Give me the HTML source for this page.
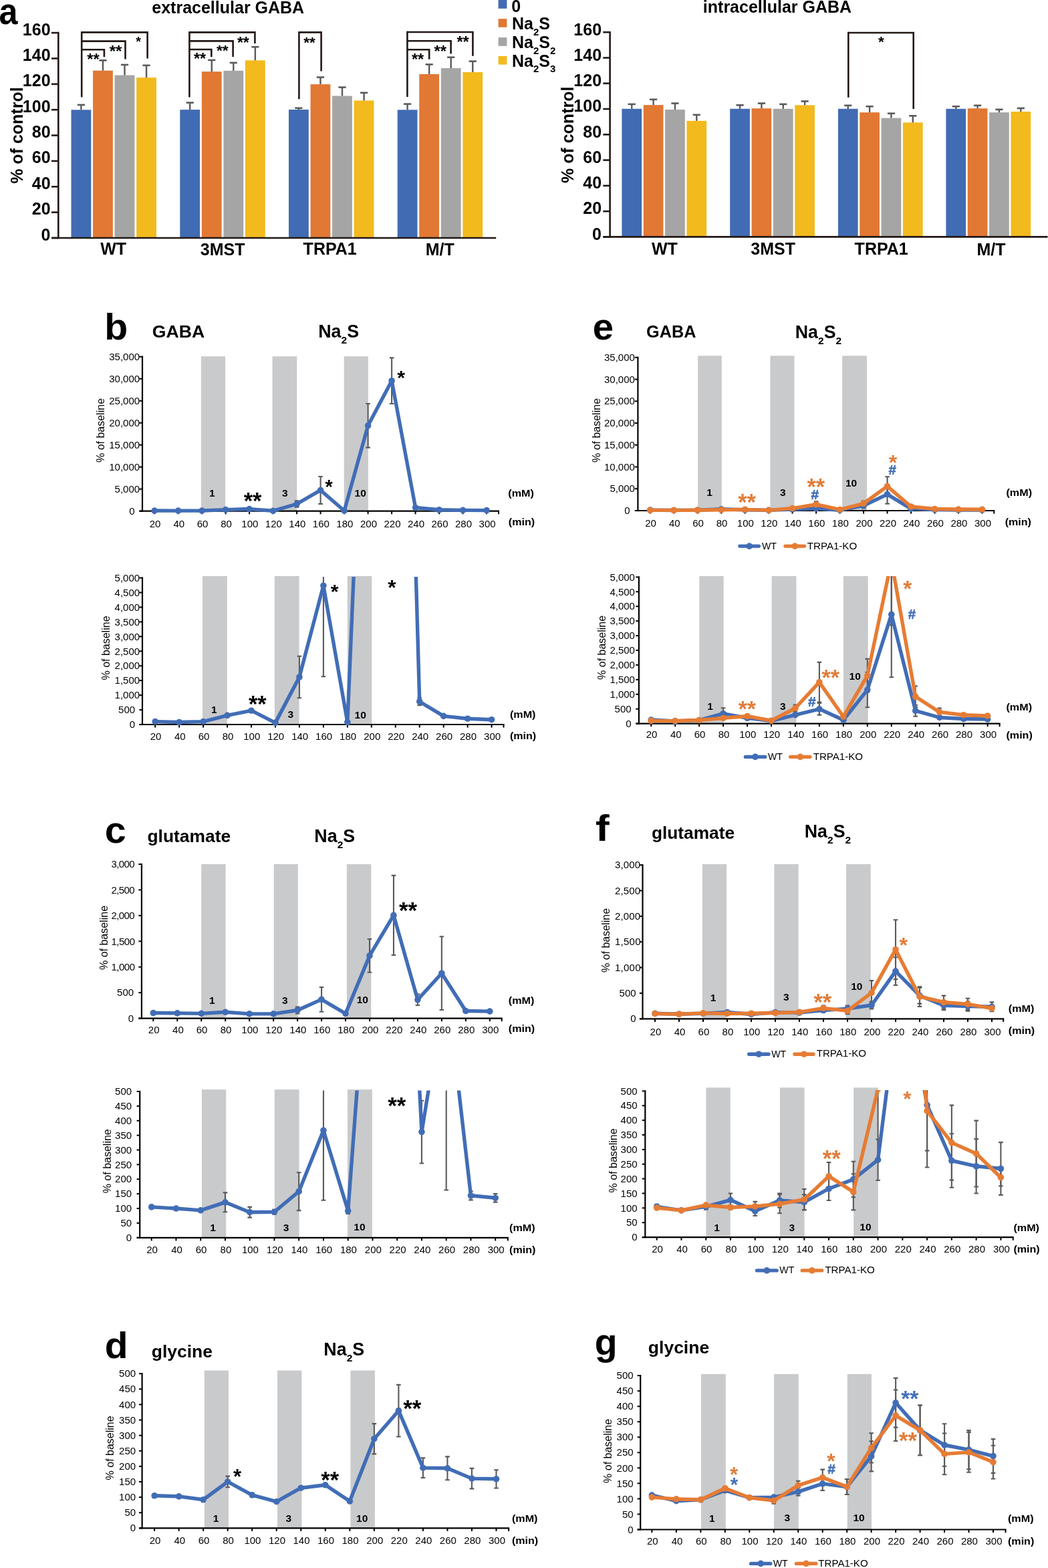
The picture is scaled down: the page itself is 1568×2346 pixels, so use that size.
<!DOCTYPE html>
<html><head><meta charset="utf-8"><title>Figure</title>
<style>html,body{margin:0;padding:0;background:#fff;}svg{display:block;}</style></head>
<body><svg width="1568" height="2346" viewBox="0 0 1568 2346" font-family='Liberation Sans, Arial, sans-serif'>
<rect width="1568" height="2346" fill="#fff"/>
<rect x="106.5" y="164.3" width="29.8" height="191.7" fill="#416BB3"/><line x1="121.4" y1="164.3" x2="121.4" y2="156.9" stroke="#5A5A5A" stroke-width="2.4"/><line x1="115.8" y1="156.9" x2="127" y2="156.9" stroke="#5A5A5A" stroke-width="2.6"/><rect x="139.05" y="105.6" width="29.8" height="250.4" fill="#E17834"/><line x1="153.95" y1="105.6" x2="153.95" y2="90.3" stroke="#5A5A5A" stroke-width="2.4"/><line x1="148.35" y1="90.3" x2="159.55" y2="90.3" stroke="#5A5A5A" stroke-width="2.6"/><rect x="171.6" y="112.5" width="29.8" height="243.5" fill="#A5A5A5"/><line x1="186.5" y1="112.5" x2="186.5" y2="96.9" stroke="#5A5A5A" stroke-width="2.4"/><line x1="180.9" y1="96.9" x2="192.1" y2="96.9" stroke="#5A5A5A" stroke-width="2.6"/><rect x="204.15" y="116.1" width="29.8" height="239.9" fill="#F2BA1D"/><line x1="219.05" y1="116.1" x2="219.05" y2="97.8" stroke="#5A5A5A" stroke-width="2.4"/><line x1="213.45" y1="97.8" x2="224.65" y2="97.8" stroke="#5A5A5A" stroke-width="2.6"/><rect x="269.3" y="164.1" width="29.8" height="191.9" fill="#416BB3"/><line x1="284.2" y1="164.1" x2="284.2" y2="153.6" stroke="#5A5A5A" stroke-width="2.4"/><line x1="278.6" y1="153.6" x2="289.8" y2="153.6" stroke="#5A5A5A" stroke-width="2.6"/><rect x="301.85" y="107.1" width="29.8" height="248.9" fill="#E17834"/><line x1="316.75" y1="107.1" x2="316.75" y2="89.9" stroke="#5A5A5A" stroke-width="2.4"/><line x1="311.15" y1="89.9" x2="322.35" y2="89.9" stroke="#5A5A5A" stroke-width="2.6"/><rect x="334.4" y="105.8" width="29.8" height="250.2" fill="#A5A5A5"/><line x1="349.3" y1="105.8" x2="349.3" y2="93.9" stroke="#5A5A5A" stroke-width="2.4"/><line x1="343.7" y1="93.9" x2="354.9" y2="93.9" stroke="#5A5A5A" stroke-width="2.6"/><rect x="366.95" y="90.3" width="29.8" height="265.7" fill="#F2BA1D"/><line x1="381.85" y1="90.3" x2="381.85" y2="70.2" stroke="#5A5A5A" stroke-width="2.4"/><line x1="376.25" y1="70.2" x2="387.45" y2="70.2" stroke="#5A5A5A" stroke-width="2.6"/><rect x="432" y="164" width="29.8" height="192" fill="#416BB3"/><line x1="446.9" y1="164" x2="446.9" y2="161.7" stroke="#5A5A5A" stroke-width="2.4"/><line x1="441.3" y1="161.7" x2="452.5" y2="161.7" stroke="#5A5A5A" stroke-width="2.6"/><rect x="464.55" y="126.1" width="29.8" height="229.9" fill="#E17834"/><line x1="479.45" y1="126.1" x2="479.45" y2="115.6" stroke="#5A5A5A" stroke-width="2.4"/><line x1="473.85" y1="115.6" x2="485.05" y2="115.6" stroke="#5A5A5A" stroke-width="2.6"/><rect x="497.1" y="143.5" width="29.8" height="212.5" fill="#A5A5A5"/><line x1="512" y1="143.5" x2="512" y2="130.6" stroke="#5A5A5A" stroke-width="2.4"/><line x1="506.4" y1="130.6" x2="517.6" y2="130.6" stroke="#5A5A5A" stroke-width="2.6"/><rect x="529.65" y="150.4" width="29.8" height="205.6" fill="#F2BA1D"/><line x1="544.55" y1="150.4" x2="544.55" y2="138.8" stroke="#5A5A5A" stroke-width="2.4"/><line x1="538.95" y1="138.8" x2="550.15" y2="138.8" stroke="#5A5A5A" stroke-width="2.6"/><rect x="594.7" y="164.3" width="29.8" height="191.7" fill="#416BB3"/><line x1="609.6" y1="164.3" x2="609.6" y2="155.6" stroke="#5A5A5A" stroke-width="2.4"/><line x1="604" y1="155.6" x2="615.2" y2="155.6" stroke="#5A5A5A" stroke-width="2.6"/><rect x="627.25" y="110.9" width="29.8" height="245.1" fill="#E17834"/><line x1="642.15" y1="110.9" x2="642.15" y2="96.4" stroke="#5A5A5A" stroke-width="2.4"/><line x1="636.55" y1="96.4" x2="647.75" y2="96.4" stroke="#5A5A5A" stroke-width="2.6"/><rect x="659.8" y="102" width="29.8" height="254" fill="#A5A5A5"/><line x1="674.7" y1="102" x2="674.7" y2="85.7" stroke="#5A5A5A" stroke-width="2.4"/><line x1="669.1" y1="85.7" x2="680.3" y2="85.7" stroke="#5A5A5A" stroke-width="2.6"/><rect x="692.35" y="108" width="29.8" height="248" fill="#F2BA1D"/><line x1="707.25" y1="108" x2="707.25" y2="91.7" stroke="#5A5A5A" stroke-width="2.4"/><line x1="701.65" y1="91.7" x2="712.85" y2="91.7" stroke="#5A5A5A" stroke-width="2.6"/><line x1="87.3" y1="357.3" x2="87.3" y2="47.8" stroke="#231815" stroke-width="2.6"/><line x1="77" y1="356" x2="87.3" y2="356" stroke="#231815" stroke-width="2.6"/><line x1="77" y1="317.64" x2="87.3" y2="317.64" stroke="#231815" stroke-width="2.6"/><line x1="77" y1="279.27" x2="87.3" y2="279.27" stroke="#231815" stroke-width="2.6"/><line x1="77" y1="240.91" x2="87.3" y2="240.91" stroke="#231815" stroke-width="2.6"/><line x1="77" y1="202.55" x2="87.3" y2="202.55" stroke="#231815" stroke-width="2.6"/><line x1="77" y1="164.19" x2="87.3" y2="164.19" stroke="#231815" stroke-width="2.6"/><line x1="77" y1="125.83" x2="87.3" y2="125.83" stroke="#231815" stroke-width="2.6"/><line x1="77" y1="87.46" x2="87.3" y2="87.46" stroke="#231815" stroke-width="2.6"/><line x1="77" y1="49.1" x2="87.3" y2="49.1" stroke="#231815" stroke-width="2.6"/><line x1="77" y1="356" x2="742.2" y2="356" stroke="#231815" stroke-width="2.6"/><text x="75.53" y="359.52" font-size="25" font-weight="bold" text-anchor="end">0</text><text x="75.56" y="321.16" font-size="25" font-weight="bold" text-anchor="end">20</text><text x="75.56" y="282.8" font-size="25" font-weight="bold" text-anchor="end">40</text><text x="75.56" y="244.44" font-size="25" font-weight="bold" text-anchor="end">60</text><text x="75.56" y="206.08" font-size="25" font-weight="bold" text-anchor="end">80</text><text x="75.59" y="167.71" font-size="25" font-weight="bold" text-anchor="end">100</text><text x="75.59" y="129.35" font-size="25" font-weight="bold" text-anchor="end">120</text><text x="75.59" y="90.99" font-size="25" font-weight="bold" text-anchor="end">140</text><text x="75.59" y="52.63" font-size="25" font-weight="bold" text-anchor="end">160</text><text x="150.19" y="381.25" font-size="25" font-weight="bold" fill="#000">WT</text><text x="299.8" y="381.5" font-size="25" font-weight="bold" fill="#000">3MST</text><text x="453.62" y="381.25" font-size="25" font-weight="bold" fill="#000">TRPA1</text><text x="636.71" y="382.12" font-size="25" font-weight="bold" fill="#000">M/T</text><rect x="930.4" y="162.8" width="29.7" height="191.6" fill="#416BB3"/><line x1="945.25" y1="162.8" x2="945.25" y2="155.9" stroke="#5A5A5A" stroke-width="2.4"/><line x1="939.65" y1="155.9" x2="950.85" y2="155.9" stroke="#5A5A5A" stroke-width="2.6"/><rect x="962.75" y="157.1" width="29.7" height="197.3" fill="#E17834"/><line x1="977.6" y1="157.1" x2="977.6" y2="148.8" stroke="#5A5A5A" stroke-width="2.4"/><line x1="972" y1="148.8" x2="983.2" y2="148.8" stroke="#5A5A5A" stroke-width="2.6"/><rect x="995.1" y="164" width="29.7" height="190.4" fill="#A5A5A5"/><line x1="1009.95" y1="164" x2="1009.95" y2="154.6" stroke="#5A5A5A" stroke-width="2.4"/><line x1="1004.35" y1="154.6" x2="1015.55" y2="154.6" stroke="#5A5A5A" stroke-width="2.6"/><rect x="1027.45" y="180.8" width="29.7" height="173.6" fill="#F2BA1D"/><line x1="1042.3" y1="180.8" x2="1042.3" y2="171.8" stroke="#5A5A5A" stroke-width="2.4"/><line x1="1036.7" y1="171.8" x2="1047.9" y2="171.8" stroke="#5A5A5A" stroke-width="2.6"/><rect x="1092.2" y="162.8" width="29.7" height="191.6" fill="#416BB3"/><line x1="1107.05" y1="162.8" x2="1107.05" y2="157.3" stroke="#5A5A5A" stroke-width="2.4"/><line x1="1101.45" y1="157.3" x2="1112.65" y2="157.3" stroke="#5A5A5A" stroke-width="2.6"/><rect x="1124.55" y="162.2" width="29.7" height="192.2" fill="#E17834"/><line x1="1139.4" y1="162.2" x2="1139.4" y2="154.6" stroke="#5A5A5A" stroke-width="2.4"/><line x1="1133.8" y1="154.6" x2="1145" y2="154.6" stroke="#5A5A5A" stroke-width="2.6"/><rect x="1156.9" y="162.8" width="29.7" height="191.6" fill="#A5A5A5"/><line x1="1171.75" y1="162.8" x2="1171.75" y2="155.9" stroke="#5A5A5A" stroke-width="2.4"/><line x1="1166.15" y1="155.9" x2="1177.35" y2="155.9" stroke="#5A5A5A" stroke-width="2.6"/><rect x="1189.25" y="157.3" width="29.7" height="197.1" fill="#F2BA1D"/><line x1="1204.1" y1="157.3" x2="1204.1" y2="151.5" stroke="#5A5A5A" stroke-width="2.4"/><line x1="1198.5" y1="151.5" x2="1209.7" y2="151.5" stroke="#5A5A5A" stroke-width="2.6"/><rect x="1253.9" y="162.8" width="29.7" height="191.6" fill="#416BB3"/><line x1="1268.75" y1="162.8" x2="1268.75" y2="157.8" stroke="#5A5A5A" stroke-width="2.4"/><line x1="1263.15" y1="157.8" x2="1274.35" y2="157.8" stroke="#5A5A5A" stroke-width="2.6"/><rect x="1286.25" y="168.2" width="29.7" height="186.2" fill="#E17834"/><line x1="1301.1" y1="168.2" x2="1301.1" y2="159.2" stroke="#5A5A5A" stroke-width="2.4"/><line x1="1295.5" y1="159.2" x2="1306.7" y2="159.2" stroke="#5A5A5A" stroke-width="2.6"/><rect x="1318.6" y="176.6" width="29.7" height="177.8" fill="#A5A5A5"/><line x1="1333.45" y1="176.6" x2="1333.45" y2="169.7" stroke="#5A5A5A" stroke-width="2.4"/><line x1="1327.85" y1="169.7" x2="1339.05" y2="169.7" stroke="#5A5A5A" stroke-width="2.6"/><rect x="1350.95" y="183.3" width="29.7" height="171.1" fill="#F2BA1D"/><line x1="1365.8" y1="183.3" x2="1365.8" y2="173.3" stroke="#5A5A5A" stroke-width="2.4"/><line x1="1360.2" y1="173.3" x2="1371.4" y2="173.3" stroke="#5A5A5A" stroke-width="2.6"/><rect x="1415.4" y="162.8" width="29.7" height="191.6" fill="#416BB3"/><line x1="1430.25" y1="162.8" x2="1430.25" y2="159.2" stroke="#5A5A5A" stroke-width="2.4"/><line x1="1424.65" y1="159.2" x2="1435.85" y2="159.2" stroke="#5A5A5A" stroke-width="2.6"/><rect x="1447.75" y="162.2" width="29.7" height="192.2" fill="#E17834"/><line x1="1462.6" y1="162.2" x2="1462.6" y2="157.8" stroke="#5A5A5A" stroke-width="2.4"/><line x1="1457" y1="157.8" x2="1468.2" y2="157.8" stroke="#5A5A5A" stroke-width="2.6"/><rect x="1480.1" y="168.2" width="29.7" height="186.2" fill="#A5A5A5"/><line x1="1494.95" y1="168.2" x2="1494.95" y2="163.8" stroke="#5A5A5A" stroke-width="2.4"/><line x1="1489.35" y1="163.8" x2="1500.55" y2="163.8" stroke="#5A5A5A" stroke-width="2.6"/><rect x="1512.45" y="167" width="29.7" height="187.4" fill="#F2BA1D"/><line x1="1527.3" y1="167" x2="1527.3" y2="161.9" stroke="#5A5A5A" stroke-width="2.4"/><line x1="1521.7" y1="161.9" x2="1532.9" y2="161.9" stroke="#5A5A5A" stroke-width="2.6"/><line x1="912.6" y1="355.7" x2="912.6" y2="46.9" stroke="#231815" stroke-width="2.6"/><line x1="902.3" y1="354.4" x2="912.6" y2="354.4" stroke="#231815" stroke-width="2.6"/><line x1="902.3" y1="316.12" x2="912.6" y2="316.12" stroke="#231815" stroke-width="2.6"/><line x1="902.3" y1="277.85" x2="912.6" y2="277.85" stroke="#231815" stroke-width="2.6"/><line x1="902.3" y1="239.57" x2="912.6" y2="239.57" stroke="#231815" stroke-width="2.6"/><line x1="902.3" y1="201.3" x2="912.6" y2="201.3" stroke="#231815" stroke-width="2.6"/><line x1="902.3" y1="163.02" x2="912.6" y2="163.02" stroke="#231815" stroke-width="2.6"/><line x1="902.3" y1="124.75" x2="912.6" y2="124.75" stroke="#231815" stroke-width="2.6"/><line x1="902.3" y1="86.47" x2="912.6" y2="86.47" stroke="#231815" stroke-width="2.6"/><line x1="902.3" y1="48.2" x2="912.6" y2="48.2" stroke="#231815" stroke-width="2.6"/><line x1="902.3" y1="354.4" x2="1567.5" y2="354.4" stroke="#231815" stroke-width="2.6"/><text x="900.03" y="358.72" font-size="25" font-weight="bold" text-anchor="end">0</text><text x="900.06" y="320.45" font-size="25" font-weight="bold" text-anchor="end">20</text><text x="900.06" y="282.17" font-size="25" font-weight="bold" text-anchor="end">40</text><text x="900.06" y="243.9" font-size="25" font-weight="bold" text-anchor="end">60</text><text x="900.06" y="205.62" font-size="25" font-weight="bold" text-anchor="end">80</text><text x="900.09" y="167.35" font-size="25" font-weight="bold" text-anchor="end">100</text><text x="900.09" y="129.07" font-size="25" font-weight="bold" text-anchor="end">120</text><text x="900.09" y="90.8" font-size="25" font-weight="bold" text-anchor="end">140</text><text x="900.09" y="52.52" font-size="25" font-weight="bold" text-anchor="end">160</text><text x="974.99" y="380.75" font-size="25" font-weight="bold" fill="#000">WT</text><text x="1123.3" y="381" font-size="25" font-weight="bold" fill="#000">3MST</text><text x="1278.62" y="380.75" font-size="25" font-weight="bold" fill="#000">TRPA1</text><text x="1461.51" y="381.62" font-size="25" font-weight="bold" fill="#000">M/T</text><path d="M122.2 145.4 V47.1" stroke="#231815" stroke-width="2.6" fill="none"/><path d="M122.2 48.4 H220.6 V87.4" stroke="#231815" stroke-width="2.6" fill="none" stroke-linejoin="miter"/><path d="M122.2 61.6 H187.5 V88.6" stroke="#231815" stroke-width="2.6" fill="none" stroke-linejoin="miter"/><path d="M122.2 74.3 H155.9 V85.2" stroke="#231815" stroke-width="2.6" fill="none" stroke-linejoin="miter"/><path d="M283.4 145.4 V47.1" stroke="#231815" stroke-width="2.6" fill="none"/><path d="M283.4 48.4 H381.4 V65" stroke="#231815" stroke-width="2.6" fill="none" stroke-linejoin="miter"/><path d="M283.4 61.4 H348.6 V85.1" stroke="#231815" stroke-width="2.6" fill="none" stroke-linejoin="miter"/><path d="M283.4 74 H316.3 V85.3" stroke="#231815" stroke-width="2.6" fill="none" stroke-linejoin="miter"/><path d="M447.4 148.3 V47.1" stroke="#231815" stroke-width="2.6" fill="none"/><path d="M447.4 48.4 H480.6 V106.4" stroke="#231815" stroke-width="2.6" fill="none" stroke-linejoin="miter"/><path d="M609.4 145 V46.7" stroke="#231815" stroke-width="2.6" fill="none"/><path d="M609.4 48 H707.4 V83.7" stroke="#231815" stroke-width="2.6" fill="none" stroke-linejoin="miter"/><path d="M609.4 61.2 H674.6 V80.4" stroke="#231815" stroke-width="2.6" fill="none" stroke-linejoin="miter"/><path d="M609.4 74.3 H642.2 V88.8" stroke="#231815" stroke-width="2.6" fill="none" stroke-linejoin="miter"/><path d="M1269.3 145.8 V47.7" stroke="#231815" stroke-width="2.6" fill="none"/><path d="M1269.3 49 H1366.7 V163" stroke="#231815" stroke-width="2.6" fill="none" stroke-linejoin="miter"/><text x="130.28" y="97.39" font-size="23.64" font-weight="bold" fill="#000">**</text><text x="163.78" y="85.48" font-size="24.03" font-weight="bold" fill="#000">**</text><text x="203.2" y="69.22" font-size="19.74" font-weight="bold" fill="#000">*</text><text x="289.88" y="96.01" font-size="23.38" font-weight="bold" fill="#000">**</text><text x="323.89" y="83.34" font-size="22.86" font-weight="bold" fill="#000">**</text><text x="354.88" y="71.87" font-size="23.12" font-weight="bold" fill="#000">**</text><text x="454.29" y="70.6" font-size="22.47" font-weight="bold" fill="#000">**</text><text x="615.88" y="97.21" font-size="23.38" font-weight="bold" fill="#000">**</text><text x="649.48" y="84.9" font-size="23.77" font-weight="bold" fill="#000">**</text><text x="683.38" y="71.07" font-size="23.51" font-weight="bold" fill="#000">**</text><text x="1313.89" y="70.23" font-size="22.63" font-weight="bold" fill="#000">*</text><text x="227.3" y="19.95" font-size="25" font-weight="bold" fill="#000">extracellular GABA</text><text x="1051.85" y="19.35" font-size="25" font-weight="bold" fill="#000">intracellular GABA</text><text transform="translate(34 202.6) rotate(-90)" font-size="25" font-weight="bold" text-anchor="middle">% of control</text><text transform="translate(857.9 201.8) rotate(-90)" font-size="25" font-weight="bold" text-anchor="middle">% of control</text><text transform="translate(-1.51 36.24) scale(0.8979 1)" font-size="56" font-weight="bold" fill="#000">a</text><rect x="745.6" y="-0.5" width="12.8" height="13.3" fill="#416BB3"/><rect x="745.6" y="28.1" width="12.8" height="12.7" fill="#E17834"/><rect x="745.6" y="56.1" width="12.8" height="12.7" fill="#A5A5A5"/><rect x="745.6" y="83.9" width="12.8" height="12.7" fill="#F2BA1D"/><text x="765.2" y="17.95" font-size="25" font-weight="bold" fill="#000">0</text><text x="766" y="44" font-size="25" font-weight="bold">Na<tspan font-size="15" dy="8.8">2</tspan><tspan dy="-8.8">S</tspan></text><text x="766" y="71.7" font-size="25" font-weight="bold">Na<tspan font-size="15" dy="8.8">2</tspan><tspan dy="-8.8">S</tspan><tspan font-size="15" dy="8.8">2</tspan></text><text x="766" y="99.6" font-size="25" font-weight="bold">Na<tspan font-size="15" dy="8.8">2</tspan><tspan dy="-8.8">S</tspan><tspan font-size="15" dy="8.8">3</tspan></text>
<rect x="300.8" y="533.2" width="36.3" height="231.5" fill="#C9CACC"/><rect x="407.5" y="533.2" width="36.8" height="231.5" fill="#C9CACC"/><rect x="514.7" y="533.2" width="36.2" height="231.5" fill="#C9CACC"/><text x="313.07" y="742.8" font-size="15.5" font-weight="bold" fill="#000">1</text><text x="422.01" y="742.64" font-size="15.5" font-weight="bold" fill="#000">3</text><text x="530.57" y="743.05" font-size="15.5" font-weight="bold" fill="#000">10</text><line x1="213" y1="765.8" x2="213" y2="532.6" stroke="#000" stroke-width="2.2"/><line x1="208.4" y1="764.7" x2="747" y2="764.7" stroke="#000" stroke-width="2.2"/><line x1="231.1" y1="764.7" x2="231.1" y2="769.3" stroke="#000" stroke-width="2"/><line x1="266.6" y1="764.7" x2="266.6" y2="769.3" stroke="#000" stroke-width="2"/><line x1="302.1" y1="764.7" x2="302.1" y2="769.3" stroke="#000" stroke-width="2"/><line x1="337.6" y1="764.7" x2="337.6" y2="769.3" stroke="#000" stroke-width="2"/><line x1="373.1" y1="764.7" x2="373.1" y2="769.3" stroke="#000" stroke-width="2"/><line x1="408.6" y1="764.7" x2="408.6" y2="769.3" stroke="#000" stroke-width="2"/><line x1="444.1" y1="764.7" x2="444.1" y2="769.3" stroke="#000" stroke-width="2"/><line x1="479.6" y1="764.7" x2="479.6" y2="769.3" stroke="#000" stroke-width="2"/><line x1="515.1" y1="764.7" x2="515.1" y2="769.3" stroke="#000" stroke-width="2"/><line x1="550.6" y1="764.7" x2="550.6" y2="769.3" stroke="#000" stroke-width="2"/><line x1="586.1" y1="764.7" x2="586.1" y2="769.3" stroke="#000" stroke-width="2"/><line x1="621.6" y1="764.7" x2="621.6" y2="769.3" stroke="#000" stroke-width="2"/><line x1="657.1" y1="764.7" x2="657.1" y2="769.3" stroke="#000" stroke-width="2"/><line x1="692.6" y1="764.7" x2="692.6" y2="769.3" stroke="#000" stroke-width="2"/><line x1="728.1" y1="764.7" x2="728.1" y2="769.3" stroke="#000" stroke-width="2"/><line x1="746" y1="764.7" x2="746" y2="769.3" stroke="#000" stroke-width="2"/><clipPath id="c1"><rect x="213" y="532.2" width="543" height="251"/></clipPath><g clip-path="url(#c1)"><path d="M444.1 749.32 V758.73 M440.8 749.32 H447.4 M440.8 758.73 H447.4" stroke="#5A5A5A" stroke-width="2.1" fill="none"/><path d="M479.6 712.98 V753.9 M476.3 712.98 H482.9 M476.3 753.9 H482.9" stroke="#5A5A5A" stroke-width="2.1" fill="none"/><path d="M550.6 604 V669.6 M547.3 604 H553.9 M547.3 669.6 H553.9" stroke="#5A5A5A" stroke-width="2.1" fill="none"/><path d="M586.1 535.38 V604.02 M582.8 535.38 H589.4 M582.8 604.02 H589.4" stroke="#5A5A5A" stroke-width="2.1" fill="none"/><path d="M621.6 758.73 V760.35 M618.3 758.73 H624.9 M618.3 760.35 H624.9" stroke="#5A5A5A" stroke-width="2.1" fill="none"/><polyline points="231.1,764.04 266.6,764.17 302.1,764.04 337.6,762.65 373.1,761.57 408.6,764.3 444.1,754.02 479.6,733.44 515.1,764.17 550.6,636.8 586.1,569.7 621.6,759.54 657.1,762.81 692.6,763.38 728.1,763.6" fill="none" stroke="#416DB6" stroke-width="5.4" stroke-linejoin="round"/><circle cx="231.1" cy="764.04" r="4.8" fill="#416DB6"/><circle cx="266.6" cy="764.17" r="4.8" fill="#416DB6"/><circle cx="302.1" cy="764.04" r="4.8" fill="#416DB6"/><circle cx="337.6" cy="762.65" r="4.8" fill="#416DB6"/><circle cx="373.1" cy="761.57" r="4.8" fill="#416DB6"/><circle cx="408.6" cy="764.3" r="4.8" fill="#416DB6"/><circle cx="444.1" cy="754.02" r="4.8" fill="#416DB6"/><circle cx="479.6" cy="733.44" r="4.8" fill="#416DB6"/><circle cx="515.1" cy="764.17" r="4.8" fill="#416DB6"/><circle cx="550.6" cy="636.8" r="4.8" fill="#416DB6"/><circle cx="586.1" cy="569.7" r="4.8" fill="#416DB6"/><circle cx="621.6" cy="759.54" r="4.8" fill="#416DB6"/><circle cx="657.1" cy="762.81" r="4.8" fill="#416DB6"/><circle cx="692.6" cy="763.38" r="4.8" fill="#416DB6"/><circle cx="728.1" cy="763.6" r="4.8" fill="#416DB6"/></g><line x1="208.4" y1="764.7" x2="213" y2="764.7" stroke="#000" stroke-width="2"/><text x="193.2" y="769.88" font-size="15" fill="#000">0</text><line x1="208.4" y1="731.7" x2="213" y2="731.7" stroke="#000" stroke-width="2"/><text x="171.62" y="736.9" font-size="15" fill="#000">5,000</text><line x1="208.4" y1="698.7" x2="213" y2="698.7" stroke="#000" stroke-width="2"/><text x="163.22" y="703.9" font-size="15" fill="#000">10,000</text><line x1="208.4" y1="665.7" x2="213" y2="665.7" stroke="#000" stroke-width="2"/><text x="163.22" y="670.9" font-size="15" fill="#000">15,000</text><line x1="208.4" y1="632.7" x2="213" y2="632.7" stroke="#000" stroke-width="2"/><text x="163.22" y="637.9" font-size="15" fill="#000">20,000</text><line x1="208.4" y1="599.7" x2="213" y2="599.7" stroke="#000" stroke-width="2"/><text x="163.22" y="604.9" font-size="15" fill="#000">25,000</text><line x1="208.4" y1="566.7" x2="213" y2="566.7" stroke="#000" stroke-width="2"/><text x="163.22" y="571.9" font-size="15" fill="#000">30,000</text><line x1="208.4" y1="533.7" x2="213" y2="533.7" stroke="#000" stroke-width="2"/><text x="163.22" y="538.9" font-size="15" fill="#000">35,000</text><text x="223.66" y="789.05" font-size="15" fill="#000">20</text><text x="259.39" y="789.05" font-size="15" fill="#000">40</text><text x="294.66" y="789.05" font-size="15" fill="#000">60</text><text x="330.2" y="789.05" font-size="15" fill="#000">80</text><text x="361.31" y="789.05" font-size="15" fill="#000">100</text><text x="396.81" y="789.05" font-size="15" fill="#000">120</text><text x="432.31" y="789.05" font-size="15" fill="#000">140</text><text x="467.81" y="789.05" font-size="15" fill="#000">160</text><text x="503.31" y="789.05" font-size="15" fill="#000">180</text><text x="539" y="789.05" font-size="15" fill="#000">200</text><text x="574.5" y="789.05" font-size="15" fill="#000">220</text><text x="610" y="789.05" font-size="15" fill="#000">240</text><text x="645.5" y="789.05" font-size="15" fill="#000">260</text><text x="681" y="789.05" font-size="15" fill="#000">280</text><text x="716.58" y="789.05" font-size="15" fill="#000">300</text><text transform="translate(760.29 742.94) scale(1.0424 1)" font-size="15.5" font-weight="bold" fill="#000">(mM)</text><text transform="translate(760.8 786.24) scale(1.0372 1)" font-size="15.5" font-weight="bold" fill="#000">(min)</text><text transform="translate(156.3 644) rotate(-90)" font-size="16" text-anchor="middle">% of baseline</text><text x="364.63" y="761.36" font-size="34.29" font-weight="bold" fill="#000">**</text><text x="486.46" y="738.37" font-size="28.95" font-weight="bold" fill="#000">*</text><text x="594.35" y="575.18" font-size="30.26" font-weight="bold" fill="#000">*</text><rect x="303" y="861.9" width="36.8" height="222.1" fill="#C9CACC"/><rect x="410.8" y="861.9" width="36.8" height="222.1" fill="#C9CACC"/><rect x="519.8" y="861.9" width="36.5" height="222.1" fill="#C9CACC"/><text x="316.07" y="1066.6" font-size="15.5" font-weight="bold" fill="#000">1</text><text x="430.51" y="1074.25" font-size="15.5" font-weight="bold" fill="#000">3</text><text x="530.57" y="1074.55" font-size="15.5" font-weight="bold" fill="#000">10</text><line x1="213" y1="1085.1" x2="213" y2="863.5" stroke="#000" stroke-width="2.2"/><line x1="208.4" y1="1084" x2="754.5" y2="1084" stroke="#000" stroke-width="2.2"/><line x1="232.2" y1="1084" x2="232.2" y2="1088.6" stroke="#000" stroke-width="2"/><line x1="268.16" y1="1084" x2="268.16" y2="1088.6" stroke="#000" stroke-width="2"/><line x1="304.11" y1="1084" x2="304.11" y2="1088.6" stroke="#000" stroke-width="2"/><line x1="340.07" y1="1084" x2="340.07" y2="1088.6" stroke="#000" stroke-width="2"/><line x1="376.03" y1="1084" x2="376.03" y2="1088.6" stroke="#000" stroke-width="2"/><line x1="411.99" y1="1084" x2="411.99" y2="1088.6" stroke="#000" stroke-width="2"/><line x1="447.94" y1="1084" x2="447.94" y2="1088.6" stroke="#000" stroke-width="2"/><line x1="483.9" y1="1084" x2="483.9" y2="1088.6" stroke="#000" stroke-width="2"/><line x1="519.86" y1="1084" x2="519.86" y2="1088.6" stroke="#000" stroke-width="2"/><line x1="555.81" y1="1084" x2="555.81" y2="1088.6" stroke="#000" stroke-width="2"/><line x1="591.77" y1="1084" x2="591.77" y2="1088.6" stroke="#000" stroke-width="2"/><line x1="627.73" y1="1084" x2="627.73" y2="1088.6" stroke="#000" stroke-width="2"/><line x1="663.69" y1="1084" x2="663.69" y2="1088.6" stroke="#000" stroke-width="2"/><line x1="699.64" y1="1084" x2="699.64" y2="1088.6" stroke="#000" stroke-width="2"/><line x1="735.6" y1="1084" x2="735.6" y2="1088.6" stroke="#000" stroke-width="2"/><line x1="753.5" y1="1084" x2="753.5" y2="1088.6" stroke="#000" stroke-width="2"/><clipPath id="c2"><rect x="213" y="863.1" width="550.5" height="239.4"/></clipPath><g clip-path="url(#c2)"><path d="M447.94 981.72 V1044.29 M444.64 981.72 H451.24 M444.64 1044.29 H451.24" stroke="#5A5A5A" stroke-width="2.1" fill="none"/><path d="M483.9 740.16 V1012.21 M480.6 740.16 H487.2 M480.6 1012.21 H487.2" stroke="#5A5A5A" stroke-width="2.1" fill="none"/><path d="M555.81 15.57 V451.73 M552.51 15.57 H559.11 M552.51 451.73 H559.11" stroke="#5A5A5A" stroke-width="2.1" fill="none"/><path d="M591.77 -440.61 V15.74 M588.47 -440.61 H595.07 M588.47 15.74 H595.07" stroke="#5A5A5A" stroke-width="2.1" fill="none"/><path d="M627.73 1044.29 V1055.08 M624.43 1044.29 H631.03 M624.43 1055.08 H631.03" stroke="#5A5A5A" stroke-width="2.1" fill="none"/><polyline points="232.2,1079.61 268.16,1080.49 304.11,1079.61 340.07,1070.4 376.03,1063.2 411.99,1081.37 447.94,1013 483.9,876.18 519.86,1080.49 555.81,233.65 591.77,-212.43 627.73,1049.69 663.69,1071.41 699.64,1075.22 735.6,1076.72" fill="none" stroke="#416DB6" stroke-width="5.4" stroke-linejoin="round"/><circle cx="232.2" cy="1079.61" r="4.8" fill="#416DB6"/><circle cx="268.16" cy="1080.49" r="4.8" fill="#416DB6"/><circle cx="304.11" cy="1079.61" r="4.8" fill="#416DB6"/><circle cx="340.07" cy="1070.4" r="4.8" fill="#416DB6"/><circle cx="376.03" cy="1063.2" r="4.8" fill="#416DB6"/><circle cx="411.99" cy="1081.37" r="4.8" fill="#416DB6"/><circle cx="447.94" cy="1013" r="4.8" fill="#416DB6"/><circle cx="483.9" cy="876.18" r="4.8" fill="#416DB6"/><circle cx="519.86" cy="1080.49" r="4.8" fill="#416DB6"/><circle cx="555.81" cy="233.65" r="4.8" fill="#416DB6"/><circle cx="591.77" cy="-212.43" r="4.8" fill="#416DB6"/><circle cx="627.73" cy="1049.69" r="4.8" fill="#416DB6"/><circle cx="663.69" cy="1071.41" r="4.8" fill="#416DB6"/><circle cx="699.64" cy="1075.22" r="4.8" fill="#416DB6"/><circle cx="735.6" cy="1076.72" r="4.8" fill="#416DB6"/></g><line x1="208.4" y1="1084" x2="213" y2="1084" stroke="#000" stroke-width="2"/><text x="193.7" y="1089.17" font-size="15" fill="#000">0</text><line x1="208.4" y1="1062.06" x2="213" y2="1062.06" stroke="#000" stroke-width="2"/><text x="177.05" y="1067.23" font-size="15" fill="#000">500</text><line x1="208.4" y1="1040.12" x2="213" y2="1040.12" stroke="#000" stroke-width="2"/><text x="171.62" y="1045.32" font-size="15" fill="#000">1,000</text><line x1="208.4" y1="1018.18" x2="213" y2="1018.18" stroke="#000" stroke-width="2"/><text x="171.62" y="1023.38" font-size="15" fill="#000">1,500</text><line x1="208.4" y1="996.24" x2="213" y2="996.24" stroke="#000" stroke-width="2"/><text x="171.62" y="1001.44" font-size="15" fill="#000">2,000</text><line x1="208.4" y1="974.3" x2="213" y2="974.3" stroke="#000" stroke-width="2"/><text x="171.62" y="979.5" font-size="15" fill="#000">2,500</text><line x1="208.4" y1="952.36" x2="213" y2="952.36" stroke="#000" stroke-width="2"/><text x="171.62" y="957.56" font-size="15" fill="#000">3,000</text><line x1="208.4" y1="930.42" x2="213" y2="930.42" stroke="#000" stroke-width="2"/><text x="171.62" y="935.62" font-size="15" fill="#000">3,500</text><line x1="208.4" y1="908.48" x2="213" y2="908.48" stroke="#000" stroke-width="2"/><text x="171.62" y="913.68" font-size="15" fill="#000">4,000</text><line x1="208.4" y1="886.54" x2="213" y2="886.54" stroke="#000" stroke-width="2"/><text x="171.62" y="891.74" font-size="15" fill="#000">4,500</text><line x1="208.4" y1="864.6" x2="213" y2="864.6" stroke="#000" stroke-width="2"/><text x="171.62" y="869.8" font-size="15" fill="#000">5,000</text><text x="224.76" y="1106.55" font-size="15" fill="#000">20</text><text x="260.94" y="1106.55" font-size="15" fill="#000">40</text><text x="296.68" y="1106.55" font-size="15" fill="#000">60</text><text x="332.67" y="1106.55" font-size="15" fill="#000">80</text><text x="364.24" y="1106.55" font-size="15" fill="#000">100</text><text x="400.2" y="1106.55" font-size="15" fill="#000">120</text><text x="436.16" y="1106.55" font-size="15" fill="#000">140</text><text x="472.11" y="1106.55" font-size="15" fill="#000">160</text><text x="508.07" y="1106.55" font-size="15" fill="#000">180</text><text x="544.21" y="1106.55" font-size="15" fill="#000">200</text><text x="580.17" y="1106.55" font-size="15" fill="#000">220</text><text x="616.13" y="1106.55" font-size="15" fill="#000">240</text><text x="652.09" y="1106.55" font-size="15" fill="#000">260</text><text x="688.04" y="1106.55" font-size="15" fill="#000">280</text><text x="724.08" y="1106.55" font-size="15" fill="#000">300</text><text transform="translate(762.89 1073.64) scale(1.0424 1)" font-size="15.5" font-weight="bold" fill="#000">(mM)</text><text transform="translate(762.9 1106.24) scale(1.0372 1)" font-size="15.5" font-weight="bold" fill="#000">(min)</text><text transform="translate(163.9 969.5) rotate(-90)" font-size="16" text-anchor="middle">% of baseline</text><text x="372.03" y="1064.85" font-size="34.16" font-weight="bold" fill="#000">**</text><text x="494.85" y="895.48" font-size="30.26" font-weight="bold" fill="#000">*</text><text x="580.34" y="890.4" font-size="31.58" font-weight="bold" fill="#000">*</text><rect x="301.2" y="1292.9" width="36.4" height="230.7" fill="#C9CACC"/><rect x="409.7" y="1292.9" width="36.1" height="230.7" fill="#C9CACC"/><rect x="518.8" y="1292.9" width="36.5" height="230.7" fill="#C9CACC"/><text x="313.07" y="1502" font-size="15.5" font-weight="bold" fill="#000">1</text><text x="422.01" y="1501.85" font-size="15.5" font-weight="bold" fill="#000">3</text><text x="533.67" y="1501.44" font-size="15.5" font-weight="bold" fill="#000">10</text><line x1="211.9" y1="1524.7" x2="211.9" y2="1291.9" stroke="#000" stroke-width="2.2"/><line x1="207.3" y1="1523.6" x2="751.7" y2="1523.6" stroke="#000" stroke-width="2.2"/><line x1="229.3" y1="1523.6" x2="229.3" y2="1528.2" stroke="#000" stroke-width="2"/><line x1="265.26" y1="1523.6" x2="265.26" y2="1528.2" stroke="#000" stroke-width="2"/><line x1="301.23" y1="1523.6" x2="301.23" y2="1528.2" stroke="#000" stroke-width="2"/><line x1="337.19" y1="1523.6" x2="337.19" y2="1528.2" stroke="#000" stroke-width="2"/><line x1="373.16" y1="1523.6" x2="373.16" y2="1528.2" stroke="#000" stroke-width="2"/><line x1="409.12" y1="1523.6" x2="409.12" y2="1528.2" stroke="#000" stroke-width="2"/><line x1="445.09" y1="1523.6" x2="445.09" y2="1528.2" stroke="#000" stroke-width="2"/><line x1="481.05" y1="1523.6" x2="481.05" y2="1528.2" stroke="#000" stroke-width="2"/><line x1="517.01" y1="1523.6" x2="517.01" y2="1528.2" stroke="#000" stroke-width="2"/><line x1="552.98" y1="1523.6" x2="552.98" y2="1528.2" stroke="#000" stroke-width="2"/><line x1="588.94" y1="1523.6" x2="588.94" y2="1528.2" stroke="#000" stroke-width="2"/><line x1="624.91" y1="1523.6" x2="624.91" y2="1528.2" stroke="#000" stroke-width="2"/><line x1="660.87" y1="1523.6" x2="660.87" y2="1528.2" stroke="#000" stroke-width="2"/><line x1="696.84" y1="1523.6" x2="696.84" y2="1528.2" stroke="#000" stroke-width="2"/><line x1="732.8" y1="1523.6" x2="732.8" y2="1528.2" stroke="#000" stroke-width="2"/><line x1="750.7" y1="1523.6" x2="750.7" y2="1528.2" stroke="#000" stroke-width="2"/><clipPath id="c3"><rect x="211.9" y="1291.5" width="548.8" height="250.6"/></clipPath><g clip-path="url(#c3)"><path d="M229.3 1515.22 V1515.84 M226 1515.22 H232.6 M226 1515.84 H232.6" stroke="#5A5A5A" stroke-width="2.1" fill="none"/><path d="M265.26 1515.61 V1516.22 M261.96 1515.61 H268.56 M261.96 1516.22 H268.56" stroke="#5A5A5A" stroke-width="2.1" fill="none"/><path d="M301.23 1516.11 V1516.72 M297.93 1516.11 H304.53 M297.93 1516.72 H304.53" stroke="#5A5A5A" stroke-width="2.1" fill="none"/><path d="M337.19 1511.76 V1516.84 M333.89 1511.76 H340.49 M333.89 1516.84 H340.49" stroke="#5A5A5A" stroke-width="2.1" fill="none"/><path d="M373.16 1515.53 V1518.3 M369.86 1515.53 H376.46 M369.86 1518.3 H376.46" stroke="#5A5A5A" stroke-width="2.1" fill="none"/><path d="M409.12 1516.22 V1517.45 M405.82 1516.22 H412.42 M405.82 1517.45 H412.42" stroke="#5A5A5A" stroke-width="2.1" fill="none"/><path d="M445.09 1506.46 V1516.45 M441.79 1506.46 H448.39 M441.79 1516.45 H448.39" stroke="#5A5A5A" stroke-width="2.1" fill="none"/><path d="M481.05 1477.02 V1513.76 M477.75 1477.02 H484.35 M477.75 1513.76 H484.35" stroke="#5A5A5A" stroke-width="2.1" fill="none"/><path d="M517.01 1515.76 V1517.3 M513.71 1515.76 H520.31 M513.71 1517.3 H520.31" stroke="#5A5A5A" stroke-width="2.1" fill="none"/><path d="M552.98 1405.07 V1454.73 M549.68 1405.07 H556.28 M549.68 1454.73 H556.28" stroke="#5A5A5A" stroke-width="2.1" fill="none"/><path d="M588.94 1309.83 V1428.98 M585.64 1309.83 H592.24 M585.64 1428.98 H592.24" stroke="#5A5A5A" stroke-width="2.1" fill="none"/><path d="M624.91 1487.59 V1504.04 M621.61 1487.59 H628.21 M621.61 1504.04 H628.21" stroke="#5A5A5A" stroke-width="2.1" fill="none"/><path d="M660.87 1401.31 V1511.07 M657.57 1401.31 H664.17 M657.57 1511.07 H664.17" stroke="#5A5A5A" stroke-width="2.1" fill="none"/><path d="M696.84 1511.38 V1513.68 M693.54 1511.38 H700.14 M693.54 1513.68 H700.14" stroke="#5A5A5A" stroke-width="2.1" fill="none"/><path d="M732.8 1512.03 V1514.26 M729.5 1512.03 H736.1 M729.5 1514.26 H736.1" stroke="#5A5A5A" stroke-width="2.1" fill="none"/><polyline points="229.3,1515.53 265.26,1515.91 301.23,1516.41 337.19,1514.3 373.16,1516.91 409.12,1516.84 445.09,1511.46 481.05,1495.39 517.01,1516.53 552.98,1429.9 588.94,1369.41 624.91,1495.81 660.87,1456.19 696.84,1512.53 732.8,1513.15" fill="none" stroke="#416DB6" stroke-width="5.4" stroke-linejoin="round"/><circle cx="229.3" cy="1515.53" r="4.8" fill="#416DB6"/><circle cx="265.26" cy="1515.91" r="4.8" fill="#416DB6"/><circle cx="301.23" cy="1516.41" r="4.8" fill="#416DB6"/><circle cx="337.19" cy="1514.3" r="4.8" fill="#416DB6"/><circle cx="373.16" cy="1516.91" r="4.8" fill="#416DB6"/><circle cx="409.12" cy="1516.84" r="4.8" fill="#416DB6"/><circle cx="445.09" cy="1511.46" r="4.8" fill="#416DB6"/><circle cx="481.05" cy="1495.39" r="4.8" fill="#416DB6"/><circle cx="517.01" cy="1516.53" r="4.8" fill="#416DB6"/><circle cx="552.98" cy="1429.9" r="4.8" fill="#416DB6"/><circle cx="588.94" cy="1369.41" r="4.8" fill="#416DB6"/><circle cx="624.91" cy="1495.81" r="4.8" fill="#416DB6"/><circle cx="660.87" cy="1456.19" r="4.8" fill="#416DB6"/><circle cx="696.84" cy="1512.53" r="4.8" fill="#416DB6"/><circle cx="732.8" cy="1513.15" r="4.8" fill="#416DB6"/></g><line x1="207.3" y1="1523.6" x2="211.9" y2="1523.6" stroke="#000" stroke-width="2"/><text x="191.7" y="1528.77" font-size="15" fill="#000">0</text><line x1="207.3" y1="1485.17" x2="211.9" y2="1485.17" stroke="#000" stroke-width="2"/><text x="175.05" y="1490.34" font-size="15" fill="#000">500</text><line x1="207.3" y1="1446.73" x2="211.9" y2="1446.73" stroke="#000" stroke-width="2"/><text x="166.53" y="1451.93" font-size="15" fill="#000" textLength="35.49" lengthAdjust="spacing">1,000</text><line x1="207.3" y1="1408.3" x2="211.9" y2="1408.3" stroke="#000" stroke-width="2"/><text x="166.53" y="1413.5" font-size="15" fill="#000" textLength="35.49" lengthAdjust="spacing">1,500</text><line x1="207.3" y1="1369.87" x2="211.9" y2="1369.87" stroke="#000" stroke-width="2"/><text x="166.53" y="1375.07" font-size="15" fill="#000" textLength="35.11" lengthAdjust="spacing">2,000</text><line x1="207.3" y1="1331.43" x2="211.9" y2="1331.43" stroke="#000" stroke-width="2"/><text x="166.53" y="1336.63" font-size="15" fill="#000" textLength="35.11" lengthAdjust="spacing">2,500</text><line x1="207.3" y1="1293" x2="211.9" y2="1293" stroke="#000" stroke-width="2"/><text x="166.53" y="1298.2" font-size="15" fill="#000" textLength="34.96" lengthAdjust="spacing">3,000</text><text x="221.86" y="1546.45" font-size="15" fill="#000">20</text><text x="258.05" y="1546.45" font-size="15" fill="#000">40</text><text x="293.79" y="1546.45" font-size="15" fill="#000">60</text><text x="329.79" y="1546.45" font-size="15" fill="#000">80</text><text x="361.37" y="1546.45" font-size="15" fill="#000">100</text><text x="397.33" y="1546.45" font-size="15" fill="#000">120</text><text x="433.3" y="1546.45" font-size="15" fill="#000">140</text><text x="469.26" y="1546.45" font-size="15" fill="#000">160</text><text x="505.23" y="1546.45" font-size="15" fill="#000">180</text><text x="541.38" y="1546.45" font-size="15" fill="#000">200</text><text x="577.34" y="1546.45" font-size="15" fill="#000">220</text><text x="613.31" y="1546.45" font-size="15" fill="#000">240</text><text x="649.27" y="1546.45" font-size="15" fill="#000">260</text><text x="685.24" y="1546.45" font-size="15" fill="#000">280</text><text x="721.27" y="1546.45" font-size="15" fill="#000">300</text><text transform="translate(760.79 1501.84) scale(1.0424 1)" font-size="15.5" font-weight="bold" fill="#000">(mM)</text><text transform="translate(760.8 1543.94) scale(1.0372 1)" font-size="15.5" font-weight="bold" fill="#000">(min)</text><text transform="translate(161.3 1403) rotate(-90)" font-size="16" text-anchor="middle">% of baseline</text><text x="596.93" y="1373.78" font-size="34.81" font-weight="bold" fill="#000">**</text><rect x="301.9" y="1630.1" width="36.4" height="221.7" fill="#C9CACC"/><rect x="410.8" y="1630.1" width="36.8" height="221.7" fill="#C9CACC"/><rect x="520" y="1630.1" width="36.8" height="221.7" fill="#C9CACC"/><text x="314.37" y="1841.7" font-size="15.5" font-weight="bold" fill="#000">1</text><text x="423.81" y="1841.55" font-size="15.5" font-weight="bold" fill="#000">3</text><text x="529.37" y="1841.44" font-size="15.5" font-weight="bold" fill="#000">10</text><line x1="209.2" y1="1852.9" x2="209.2" y2="1631.9" stroke="#000" stroke-width="2.2"/><line x1="204.6" y1="1851.8" x2="760.8" y2="1851.8" stroke="#000" stroke-width="2.2"/><line x1="226.7" y1="1851.8" x2="226.7" y2="1856.4" stroke="#000" stroke-width="2"/><line x1="263.45" y1="1851.8" x2="263.45" y2="1856.4" stroke="#000" stroke-width="2"/><line x1="300.2" y1="1851.8" x2="300.2" y2="1856.4" stroke="#000" stroke-width="2"/><line x1="336.95" y1="1851.8" x2="336.95" y2="1856.4" stroke="#000" stroke-width="2"/><line x1="373.7" y1="1851.8" x2="373.7" y2="1856.4" stroke="#000" stroke-width="2"/><line x1="410.45" y1="1851.8" x2="410.45" y2="1856.4" stroke="#000" stroke-width="2"/><line x1="447.2" y1="1851.8" x2="447.2" y2="1856.4" stroke="#000" stroke-width="2"/><line x1="483.95" y1="1851.8" x2="483.95" y2="1856.4" stroke="#000" stroke-width="2"/><line x1="520.7" y1="1851.8" x2="520.7" y2="1856.4" stroke="#000" stroke-width="2"/><line x1="557.45" y1="1851.8" x2="557.45" y2="1856.4" stroke="#000" stroke-width="2"/><line x1="594.2" y1="1851.8" x2="594.2" y2="1856.4" stroke="#000" stroke-width="2"/><line x1="630.95" y1="1851.8" x2="630.95" y2="1856.4" stroke="#000" stroke-width="2"/><line x1="667.7" y1="1851.8" x2="667.7" y2="1856.4" stroke="#000" stroke-width="2"/><line x1="704.45" y1="1851.8" x2="704.45" y2="1856.4" stroke="#000" stroke-width="2"/><line x1="741.2" y1="1851.8" x2="741.2" y2="1856.4" stroke="#000" stroke-width="2"/><line x1="759.8" y1="1851.8" x2="759.8" y2="1856.4" stroke="#000" stroke-width="2"/><clipPath id="c4"><rect x="209.2" y="1631.5" width="560.6" height="238.8"/></clipPath><g clip-path="url(#c4)"><path d="M226.7 1804.1 V1807.6 M223.4 1804.1 H230 M223.4 1807.6 H230" stroke="#5A5A5A" stroke-width="2.1" fill="none"/><path d="M263.45 1806.29 V1809.79 M260.15 1806.29 H266.75 M260.15 1809.79 H266.75" stroke="#5A5A5A" stroke-width="2.1" fill="none"/><path d="M300.2 1809.13 V1812.63 M296.9 1809.13 H303.5 M296.9 1812.63 H303.5" stroke="#5A5A5A" stroke-width="2.1" fill="none"/><path d="M336.95 1784.41 V1813.29 M333.65 1784.41 H340.25 M333.65 1813.29 H340.25" stroke="#5A5A5A" stroke-width="2.1" fill="none"/><path d="M373.7 1805.85 V1821.61 M370.4 1805.85 H377 M370.4 1821.61 H377" stroke="#5A5A5A" stroke-width="2.1" fill="none"/><path d="M410.45 1809.79 V1816.79 M407.15 1809.79 H413.75 M407.15 1816.79 H413.75" stroke="#5A5A5A" stroke-width="2.1" fill="none"/><path d="M447.2 1754.22 V1811.1 M443.9 1754.22 H450.5 M443.9 1811.1 H450.5" stroke="#5A5A5A" stroke-width="2.1" fill="none"/><path d="M483.95 1586.61 V1795.79 M480.65 1586.61 H487.25 M480.65 1795.79 H487.25" stroke="#5A5A5A" stroke-width="2.1" fill="none"/><path d="M520.7 1807.16 V1815.92 M517.4 1807.16 H524 M517.4 1815.92 H524" stroke="#5A5A5A" stroke-width="2.1" fill="none"/><path d="M557.45 1177.02 V1459.71 M554.15 1177.02 H560.75 M554.15 1459.71 H560.75" stroke="#5A5A5A" stroke-width="2.1" fill="none"/><path d="M594.2 634.83 V1313.11 M590.9 634.83 H597.5 M590.9 1313.11 H597.5" stroke="#5A5A5A" stroke-width="2.1" fill="none"/><path d="M630.95 1646.78 V1740.43 M627.65 1646.78 H634.25 M627.65 1740.43 H634.25" stroke="#5A5A5A" stroke-width="2.1" fill="none"/><path d="M667.7 1155.58 V1780.47 M664.4 1155.58 H671 M664.4 1780.47 H671" stroke="#5A5A5A" stroke-width="2.1" fill="none"/><path d="M704.45 1782.22 V1795.35 M701.15 1782.22 H707.75 M701.15 1795.35 H707.75" stroke="#5A5A5A" stroke-width="2.1" fill="none"/><path d="M741.2 1785.94 V1798.63 M737.9 1785.94 H744.5 M737.9 1798.63 H744.5" stroke="#5A5A5A" stroke-width="2.1" fill="none"/><polyline points="226.7,1805.85 263.45,1808.04 300.2,1810.88 336.95,1798.85 373.7,1813.73 410.45,1813.29 447.2,1782.66 483.95,1691.2 520.7,1811.54 557.45,1318.37 594.2,973.97 630.95,1693.61 667.7,1468.02 704.45,1788.79 741.2,1792.29" fill="none" stroke="#416DB6" stroke-width="5.4" stroke-linejoin="round"/><circle cx="226.7" cy="1805.85" r="4.8" fill="#416DB6"/><circle cx="263.45" cy="1808.04" r="4.8" fill="#416DB6"/><circle cx="300.2" cy="1810.88" r="4.8" fill="#416DB6"/><circle cx="336.95" cy="1798.85" r="4.8" fill="#416DB6"/><circle cx="373.7" cy="1813.73" r="4.8" fill="#416DB6"/><circle cx="410.45" cy="1813.29" r="4.8" fill="#416DB6"/><circle cx="447.2" cy="1782.66" r="4.8" fill="#416DB6"/><circle cx="483.95" cy="1691.2" r="4.8" fill="#416DB6"/><circle cx="520.7" cy="1811.54" r="4.8" fill="#416DB6"/><circle cx="557.45" cy="1318.37" r="4.8" fill="#416DB6"/><circle cx="594.2" cy="973.97" r="4.8" fill="#416DB6"/><circle cx="630.95" cy="1693.61" r="4.8" fill="#416DB6"/><circle cx="667.7" cy="1468.02" r="4.8" fill="#416DB6"/><circle cx="704.45" cy="1788.79" r="4.8" fill="#416DB6"/><circle cx="741.2" cy="1792.29" r="4.8" fill="#416DB6"/></g><line x1="204.6" y1="1851.8" x2="209.2" y2="1851.8" stroke="#000" stroke-width="2"/><text x="188.7" y="1856.97" font-size="15" fill="#000">0</text><line x1="204.6" y1="1829.92" x2="209.2" y2="1829.92" stroke="#000" stroke-width="2"/><text x="180.38" y="1835.1" font-size="15" fill="#000">50</text><line x1="204.6" y1="1808.04" x2="209.2" y2="1808.04" stroke="#000" stroke-width="2"/><text x="172.05" y="1813.21" font-size="15" fill="#000">100</text><line x1="204.6" y1="1786.16" x2="209.2" y2="1786.16" stroke="#000" stroke-width="2"/><text x="172.05" y="1791.33" font-size="15" fill="#000">150</text><line x1="204.6" y1="1764.28" x2="209.2" y2="1764.28" stroke="#000" stroke-width="2"/><text x="172.05" y="1769.45" font-size="15" fill="#000">200</text><line x1="204.6" y1="1742.4" x2="209.2" y2="1742.4" stroke="#000" stroke-width="2"/><text x="172.05" y="1747.58" font-size="15" fill="#000">250</text><line x1="204.6" y1="1720.52" x2="209.2" y2="1720.52" stroke="#000" stroke-width="2"/><text x="172.05" y="1725.69" font-size="15" fill="#000">300</text><line x1="204.6" y1="1698.64" x2="209.2" y2="1698.64" stroke="#000" stroke-width="2"/><text x="172.05" y="1703.81" font-size="15" fill="#000">350</text><line x1="204.6" y1="1676.76" x2="209.2" y2="1676.76" stroke="#000" stroke-width="2"/><text x="172.05" y="1681.93" font-size="15" fill="#000">400</text><line x1="204.6" y1="1654.88" x2="209.2" y2="1654.88" stroke="#000" stroke-width="2"/><text x="172.05" y="1660.06" font-size="15" fill="#000">450</text><line x1="204.6" y1="1633" x2="209.2" y2="1633" stroke="#000" stroke-width="2"/><text x="172.05" y="1638.17" font-size="15" fill="#000">500</text><text x="219.26" y="1874.85" font-size="15" fill="#000">20</text><text x="256.24" y="1874.85" font-size="15" fill="#000">40</text><text x="292.76" y="1874.85" font-size="15" fill="#000">60</text><text x="329.55" y="1874.85" font-size="15" fill="#000">80</text><text x="361.91" y="1874.85" font-size="15" fill="#000">100</text><text x="398.66" y="1874.85" font-size="15" fill="#000">120</text><text x="435.41" y="1874.85" font-size="15" fill="#000">140</text><text x="472.16" y="1874.85" font-size="15" fill="#000">160</text><text x="508.91" y="1874.85" font-size="15" fill="#000">180</text><text x="545.85" y="1874.85" font-size="15" fill="#000">200</text><text x="582.6" y="1874.85" font-size="15" fill="#000">220</text><text x="619.35" y="1874.85" font-size="15" fill="#000">240</text><text x="656.1" y="1874.85" font-size="15" fill="#000">260</text><text x="692.85" y="1874.85" font-size="15" fill="#000">280</text><text x="729.68" y="1874.85" font-size="15" fill="#000">300</text><text transform="translate(762.09 1842.14) scale(1.0424 1)" font-size="15.5" font-weight="bold" fill="#000">(mM)</text><text transform="translate(762.1 1875.24) scale(1.0372 1)" font-size="15.5" font-weight="bold" fill="#000">(min)</text><text transform="translate(166.2 1737.3) rotate(-90)" font-size="16" text-anchor="middle">% of baseline</text><text x="580.33" y="1666.03" font-size="34.81" font-weight="bold" fill="#000">**</text><rect x="305.7" y="2050.5" width="36.3" height="235.8" fill="#C9CACC"/><rect x="415" y="2050.5" width="36.4" height="235.8" fill="#C9CACC"/><rect x="524.4" y="2050.5" width="36.5" height="235.8" fill="#C9CACC"/><text x="318.77" y="2276.9" font-size="15.5" font-weight="bold" fill="#000">1</text><text x="427.61" y="2276.74" font-size="15.5" font-weight="bold" fill="#000">3</text><text x="533.07" y="2277.04" font-size="15.5" font-weight="bold" fill="#000">10</text><line x1="212.6" y1="2287.4" x2="212.6" y2="2054.1" stroke="#000" stroke-width="2.2"/><line x1="208" y1="2286.3" x2="762.1" y2="2286.3" stroke="#000" stroke-width="2.2"/><line x1="231.1" y1="2286.3" x2="231.1" y2="2290.9" stroke="#000" stroke-width="2"/><line x1="267.63" y1="2286.3" x2="267.63" y2="2290.9" stroke="#000" stroke-width="2"/><line x1="304.16" y1="2286.3" x2="304.16" y2="2290.9" stroke="#000" stroke-width="2"/><line x1="340.69" y1="2286.3" x2="340.69" y2="2290.9" stroke="#000" stroke-width="2"/><line x1="377.21" y1="2286.3" x2="377.21" y2="2290.9" stroke="#000" stroke-width="2"/><line x1="413.74" y1="2286.3" x2="413.74" y2="2290.9" stroke="#000" stroke-width="2"/><line x1="450.27" y1="2286.3" x2="450.27" y2="2290.9" stroke="#000" stroke-width="2"/><line x1="486.8" y1="2286.3" x2="486.8" y2="2290.9" stroke="#000" stroke-width="2"/><line x1="523.33" y1="2286.3" x2="523.33" y2="2290.9" stroke="#000" stroke-width="2"/><line x1="559.86" y1="2286.3" x2="559.86" y2="2290.9" stroke="#000" stroke-width="2"/><line x1="596.39" y1="2286.3" x2="596.39" y2="2290.9" stroke="#000" stroke-width="2"/><line x1="632.91" y1="2286.3" x2="632.91" y2="2290.9" stroke="#000" stroke-width="2"/><line x1="669.44" y1="2286.3" x2="669.44" y2="2290.9" stroke="#000" stroke-width="2"/><line x1="705.97" y1="2286.3" x2="705.97" y2="2290.9" stroke="#000" stroke-width="2"/><line x1="742.5" y1="2286.3" x2="742.5" y2="2290.9" stroke="#000" stroke-width="2"/><line x1="761.1" y1="2286.3" x2="761.1" y2="2290.9" stroke="#000" stroke-width="2"/><clipPath id="c5"><rect x="212.6" y="2053.7" width="558.5" height="251.1"/></clipPath><g clip-path="url(#c5)"><path d="M231.1 2235.92 V2239.62 M227.8 2235.92 H234.4 M227.8 2239.62 H234.4" stroke="#5A5A5A" stroke-width="2.1" fill="none"/><path d="M267.63 2237.49 V2240.26 M264.33 2237.49 H270.93 M264.33 2240.26 H270.93" stroke="#5A5A5A" stroke-width="2.1" fill="none"/><path d="M304.16 2242.39 V2245.16 M300.86 2242.39 H307.46 M300.86 2245.16 H307.46" stroke="#5A5A5A" stroke-width="2.1" fill="none"/><path d="M340.69 2208.65 V2225.29 M337.39 2208.65 H343.99 M337.39 2225.29 H343.99" stroke="#5A5A5A" stroke-width="2.1" fill="none"/><path d="M377.21 2235.46 V2238.23 M373.91 2235.46 H380.51 M373.91 2238.23 H380.51" stroke="#5A5A5A" stroke-width="2.1" fill="none"/><path d="M413.74 2245.3 V2248.08 M410.44 2245.3 H417.04 M410.44 2248.08 H417.04" stroke="#5A5A5A" stroke-width="2.1" fill="none"/><path d="M450.27 2224.83 V2227.6 M446.97 2224.83 H453.57 M446.97 2227.6 H453.57" stroke="#5A5A5A" stroke-width="2.1" fill="none"/><path d="M486.8 2220.39 V2223.16 M483.5 2220.39 H490.1 M483.5 2223.16 H490.1" stroke="#5A5A5A" stroke-width="2.1" fill="none"/><path d="M523.33 2244.7 V2247.48 M520.03 2244.7 H526.63 M520.03 2247.48 H526.63" stroke="#5A5A5A" stroke-width="2.1" fill="none"/><path d="M559.86 2130.08 V2175.37 M556.56 2130.08 H563.16 M556.56 2175.37 H563.16" stroke="#5A5A5A" stroke-width="2.1" fill="none"/><path d="M596.39 2071.84 V2149.49 M593.09 2071.84 H599.69 M593.09 2149.49 H599.69" stroke="#5A5A5A" stroke-width="2.1" fill="none"/><path d="M632.91 2181.38 V2210.96 M629.61 2181.38 H636.21 M629.61 2210.96 H636.21" stroke="#5A5A5A" stroke-width="2.1" fill="none"/><path d="M669.44 2179.39 V2214.24 M666.14 2179.39 H672.74 M666.14 2214.24 H672.74" stroke="#5A5A5A" stroke-width="2.1" fill="none"/><path d="M705.97 2196.86 V2227.37 M702.67 2196.86 H709.27 M702.67 2227.37 H709.27" stroke="#5A5A5A" stroke-width="2.1" fill="none"/><path d="M742.5 2199.18 V2226.45 M739.2 2199.18 H745.8 M739.2 2226.45 H745.8" stroke="#5A5A5A" stroke-width="2.1" fill="none"/><polyline points="231.1,2237.77 267.63,2238.88 304.16,2243.78 340.69,2216.97 377.21,2236.84 413.74,2246.69 450.27,2226.21 486.8,2221.78 523.33,2246.09 559.86,2152.72 596.39,2110.66 632.91,2196.17 669.44,2196.82 705.97,2212.12 742.5,2212.81" fill="none" stroke="#416DB6" stroke-width="5.4" stroke-linejoin="round"/><circle cx="231.1" cy="2237.77" r="4.8" fill="#416DB6"/><circle cx="267.63" cy="2238.88" r="4.8" fill="#416DB6"/><circle cx="304.16" cy="2243.78" r="4.8" fill="#416DB6"/><circle cx="340.69" cy="2216.97" r="4.8" fill="#416DB6"/><circle cx="377.21" cy="2236.84" r="4.8" fill="#416DB6"/><circle cx="413.74" cy="2246.69" r="4.8" fill="#416DB6"/><circle cx="450.27" cy="2226.21" r="4.8" fill="#416DB6"/><circle cx="486.8" cy="2221.78" r="4.8" fill="#416DB6"/><circle cx="523.33" cy="2246.09" r="4.8" fill="#416DB6"/><circle cx="559.86" cy="2152.72" r="4.8" fill="#416DB6"/><circle cx="596.39" cy="2110.66" r="4.8" fill="#416DB6"/><circle cx="632.91" cy="2196.17" r="4.8" fill="#416DB6"/><circle cx="669.44" cy="2196.82" r="4.8" fill="#416DB6"/><circle cx="705.97" cy="2212.12" r="4.8" fill="#416DB6"/><circle cx="742.5" cy="2212.81" r="4.8" fill="#416DB6"/></g><line x1="208" y1="2286.3" x2="212.6" y2="2286.3" stroke="#000" stroke-width="2"/><text x="194.7" y="2291.48" font-size="15" fill="#000">0</text><line x1="208" y1="2263.19" x2="212.6" y2="2263.19" stroke="#000" stroke-width="2"/><text x="186.38" y="2268.37" font-size="15" fill="#000">50</text><line x1="208" y1="2240.08" x2="212.6" y2="2240.08" stroke="#000" stroke-width="2"/><text x="178.05" y="2245.26" font-size="15" fill="#000">100</text><line x1="208" y1="2216.97" x2="212.6" y2="2216.97" stroke="#000" stroke-width="2"/><text x="178.05" y="2222.15" font-size="15" fill="#000">150</text><line x1="208" y1="2193.86" x2="212.6" y2="2193.86" stroke="#000" stroke-width="2"/><text x="178.05" y="2199.04" font-size="15" fill="#000">200</text><line x1="208" y1="2170.75" x2="212.6" y2="2170.75" stroke="#000" stroke-width="2"/><text x="178.05" y="2175.93" font-size="15" fill="#000">250</text><line x1="208" y1="2147.64" x2="212.6" y2="2147.64" stroke="#000" stroke-width="2"/><text x="178.05" y="2152.82" font-size="15" fill="#000">300</text><line x1="208" y1="2124.53" x2="212.6" y2="2124.53" stroke="#000" stroke-width="2"/><text x="178.05" y="2129.7" font-size="15" fill="#000">350</text><line x1="208" y1="2101.42" x2="212.6" y2="2101.42" stroke="#000" stroke-width="2"/><text x="178.05" y="2106.6" font-size="15" fill="#000">400</text><line x1="208" y1="2078.31" x2="212.6" y2="2078.31" stroke="#000" stroke-width="2"/><text x="178.05" y="2083.49" font-size="15" fill="#000">450</text><line x1="208" y1="2055.2" x2="212.6" y2="2055.2" stroke="#000" stroke-width="2"/><text x="178.05" y="2060.38" font-size="15" fill="#000">500</text><text x="223.66" y="2310.25" font-size="15" fill="#000">20</text><text x="260.42" y="2310.25" font-size="15" fill="#000">40</text><text x="296.72" y="2310.25" font-size="15" fill="#000">60</text><text x="333.29" y="2310.25" font-size="15" fill="#000">80</text><text x="365.43" y="2310.25" font-size="15" fill="#000">100</text><text x="401.96" y="2310.25" font-size="15" fill="#000">120</text><text x="438.48" y="2310.25" font-size="15" fill="#000">140</text><text x="475.01" y="2310.25" font-size="15" fill="#000">160</text><text x="511.54" y="2310.25" font-size="15" fill="#000">180</text><text x="548.26" y="2310.25" font-size="15" fill="#000">200</text><text x="584.79" y="2310.25" font-size="15" fill="#000">220</text><text x="621.31" y="2310.25" font-size="15" fill="#000">240</text><text x="657.84" y="2310.25" font-size="15" fill="#000">260</text><text x="694.37" y="2310.25" font-size="15" fill="#000">280</text><text x="730.98" y="2310.25" font-size="15" fill="#000">300</text><text transform="translate(765.89 2276.94) scale(1.0424 1)" font-size="15.5" font-weight="bold" fill="#000">(mM)</text><text transform="translate(765.9 2310.14) scale(1.0372 1)" font-size="15.5" font-weight="bold" fill="#000">(min)</text><text transform="translate(170.2 2166.4) rotate(-90)" font-size="16" text-anchor="middle">% of baseline</text><text x="349.04" y="2220.23" font-size="31.05" font-weight="bold" fill="#000">*</text><text x="480.33" y="2226.08" font-size="34.42" font-weight="bold" fill="#000">**</text><text x="603.33" y="2119.38" font-size="34.81" font-weight="bold" fill="#000">**</text><rect x="1044.1" y="532.3" width="35.7" height="231.7" fill="#C9CACC"/><rect x="1152.4" y="532.3" width="36.1" height="231.7" fill="#C9CACC"/><rect x="1260.1" y="532.3" width="36.8" height="231.7" fill="#C9CACC"/><text x="1057.27" y="741.7" font-size="15.5" font-weight="bold" fill="#000">1</text><text x="1167.11" y="741.55" font-size="15.5" font-weight="bold" fill="#000">3</text><text x="1264.97" y="728.35" font-size="15.5" font-weight="bold" fill="#000">10</text><line x1="954.4" y1="765.1" x2="954.4" y2="533.7" stroke="#000" stroke-width="2.2"/><line x1="949.8" y1="764" x2="1488.3" y2="764" stroke="#000" stroke-width="2.2"/><line x1="972.7" y1="764" x2="972.7" y2="768.6" stroke="#000" stroke-width="2"/><line x1="1008.19" y1="764" x2="1008.19" y2="768.6" stroke="#000" stroke-width="2"/><line x1="1043.67" y1="764" x2="1043.67" y2="768.6" stroke="#000" stroke-width="2"/><line x1="1079.16" y1="764" x2="1079.16" y2="768.6" stroke="#000" stroke-width="2"/><line x1="1114.64" y1="764" x2="1114.64" y2="768.6" stroke="#000" stroke-width="2"/><line x1="1150.13" y1="764" x2="1150.13" y2="768.6" stroke="#000" stroke-width="2"/><line x1="1185.61" y1="764" x2="1185.61" y2="768.6" stroke="#000" stroke-width="2"/><line x1="1221.1" y1="764" x2="1221.1" y2="768.6" stroke="#000" stroke-width="2"/><line x1="1256.59" y1="764" x2="1256.59" y2="768.6" stroke="#000" stroke-width="2"/><line x1="1292.07" y1="764" x2="1292.07" y2="768.6" stroke="#000" stroke-width="2"/><line x1="1327.56" y1="764" x2="1327.56" y2="768.6" stroke="#000" stroke-width="2"/><line x1="1363.04" y1="764" x2="1363.04" y2="768.6" stroke="#000" stroke-width="2"/><line x1="1398.53" y1="764" x2="1398.53" y2="768.6" stroke="#000" stroke-width="2"/><line x1="1434.01" y1="764" x2="1434.01" y2="768.6" stroke="#000" stroke-width="2"/><line x1="1469.5" y1="764" x2="1469.5" y2="768.6" stroke="#000" stroke-width="2"/><line x1="1487.3" y1="764" x2="1487.3" y2="768.6" stroke="#000" stroke-width="2"/><clipPath id="c6"><rect x="954.4" y="533.3" width="542.9" height="249.2"/></clipPath><g clip-path="url(#c6)"><path d="M1079.16 760.5 V763.04 M1075.86 760.5 H1082.46 M1075.86 763.04 H1082.46" stroke="#5A5A5A" stroke-width="2.1" fill="none"/><path d="M1221.1 759.44 V762.06 M1217.8 759.44 H1224.4 M1217.8 762.06 H1224.4" stroke="#5A5A5A" stroke-width="2.1" fill="none"/><path d="M1292.07 752.54 V760.37 M1288.77 752.54 H1295.37 M1288.77 760.37 H1295.37" stroke="#5A5A5A" stroke-width="2.1" fill="none"/><path d="M1327.56 725.61 V753.63 M1324.26 725.61 H1330.86 M1324.26 753.63 H1330.86" stroke="#5A5A5A" stroke-width="2.1" fill="none"/><path d="M1363.04 759.89 V762.37 M1359.74 759.89 H1366.34 M1359.74 762.37 H1366.34" stroke="#5A5A5A" stroke-width="2.1" fill="none"/><path d="M1185.61 759.81 V761.29 M1182.31 759.81 H1188.91 M1182.31 761.29 H1188.91" stroke="#5A5A5A" stroke-width="2.1" fill="none"/><path d="M1221.1 750.3 V759.21 M1217.8 750.3 H1224.4 M1217.8 759.21 H1224.4" stroke="#5A5A5A" stroke-width="2.1" fill="none"/><path d="M1292.07 749.55 V756.99 M1288.77 749.55 H1295.37 M1288.77 756.99 H1295.37" stroke="#5A5A5A" stroke-width="2.1" fill="none"/><path d="M1327.56 713.31 V742 M1324.26 713.31 H1330.86 M1324.26 742 H1330.86" stroke="#5A5A5A" stroke-width="2.1" fill="none"/><path d="M1363.04 755.62 V760.35 M1359.74 755.62 H1366.34 M1359.74 760.35 H1366.34" stroke="#5A5A5A" stroke-width="2.1" fill="none"/><path d="M1398.53 760.55 V762.32 M1395.23 760.55 H1401.83 M1395.23 762.32 H1401.83" stroke="#5A5A5A" stroke-width="2.1" fill="none"/><polyline points="972.7,763.17 1008.19,763.46 1043.67,763.25 1079.16,761.77 1114.64,762.78 1150.13,763.41 1185.61,762.07 1221.1,760.75 1256.59,763.21 1292.07,756.46 1327.56,739.62 1363.04,761.13 1398.53,762.64 1434.01,762.94 1469.5,763.02" fill="none" stroke="#416DB6" stroke-width="5.4" stroke-linejoin="round"/><circle cx="972.7" cy="763.17" r="4.8" fill="#416DB6"/><circle cx="1008.19" cy="763.46" r="4.8" fill="#416DB6"/><circle cx="1043.67" cy="763.25" r="4.8" fill="#416DB6"/><circle cx="1079.16" cy="761.77" r="4.8" fill="#416DB6"/><circle cx="1114.64" cy="762.78" r="4.8" fill="#416DB6"/><circle cx="1150.13" cy="763.41" r="4.8" fill="#416DB6"/><circle cx="1185.61" cy="762.07" r="4.8" fill="#416DB6"/><circle cx="1221.1" cy="760.75" r="4.8" fill="#416DB6"/><circle cx="1256.59" cy="763.21" r="4.8" fill="#416DB6"/><circle cx="1292.07" cy="756.46" r="4.8" fill="#416DB6"/><circle cx="1327.56" cy="739.62" r="4.8" fill="#416DB6"/><circle cx="1363.04" cy="761.13" r="4.8" fill="#416DB6"/><circle cx="1398.53" cy="762.64" r="4.8" fill="#416DB6"/><circle cx="1434.01" cy="762.94" r="4.8" fill="#416DB6"/><circle cx="1469.5" cy="763.02" r="4.8" fill="#416DB6"/><polyline points="972.7,763.37 1008.19,763.41 1043.67,763.25 1079.16,762.78 1114.64,762.34 1150.13,763.35 1185.61,760.55 1221.1,754.75 1256.59,762.45 1292.07,753.27 1327.56,727.66 1363.04,757.98 1398.53,761.43 1434.01,762.07 1469.5,762.26" fill="none" stroke="#E67C34" stroke-width="5.4" stroke-linejoin="round"/><circle cx="972.7" cy="763.37" r="4.8" fill="#E67C34"/><circle cx="1008.19" cy="763.41" r="4.8" fill="#E67C34"/><circle cx="1043.67" cy="763.25" r="4.8" fill="#E67C34"/><circle cx="1079.16" cy="762.78" r="4.8" fill="#E67C34"/><circle cx="1114.64" cy="762.34" r="4.8" fill="#E67C34"/><circle cx="1150.13" cy="763.35" r="4.8" fill="#E67C34"/><circle cx="1185.61" cy="760.55" r="4.8" fill="#E67C34"/><circle cx="1221.1" cy="754.75" r="4.8" fill="#E67C34"/><circle cx="1256.59" cy="762.45" r="4.8" fill="#E67C34"/><circle cx="1292.07" cy="753.27" r="4.8" fill="#E67C34"/><circle cx="1327.56" cy="727.66" r="4.8" fill="#E67C34"/><circle cx="1363.04" cy="757.98" r="4.8" fill="#E67C34"/><circle cx="1398.53" cy="761.43" r="4.8" fill="#E67C34"/><circle cx="1434.01" cy="762.07" r="4.8" fill="#E67C34"/><circle cx="1469.5" cy="762.26" r="4.8" fill="#E67C34"/></g><line x1="949.8" y1="764" x2="954.4" y2="764" stroke="#000" stroke-width="2"/><text x="934.2" y="769.17" font-size="15" fill="#000">0</text><line x1="949.8" y1="731.26" x2="954.4" y2="731.26" stroke="#000" stroke-width="2"/><text x="912.42" y="736.46" font-size="15" fill="#000">5,000</text><line x1="949.8" y1="698.51" x2="954.4" y2="698.51" stroke="#000" stroke-width="2"/><text x="904.02" y="703.71" font-size="15" fill="#000">10,000</text><line x1="949.8" y1="665.77" x2="954.4" y2="665.77" stroke="#000" stroke-width="2"/><text x="904.02" y="670.97" font-size="15" fill="#000">15,000</text><line x1="949.8" y1="633.03" x2="954.4" y2="633.03" stroke="#000" stroke-width="2"/><text x="904.02" y="638.23" font-size="15" fill="#000">20,000</text><line x1="949.8" y1="600.29" x2="954.4" y2="600.29" stroke="#000" stroke-width="2"/><text x="904.02" y="605.49" font-size="15" fill="#000">25,000</text><line x1="949.8" y1="567.54" x2="954.4" y2="567.54" stroke="#000" stroke-width="2"/><text x="904.02" y="572.74" font-size="15" fill="#000">30,000</text><line x1="949.8" y1="534.8" x2="954.4" y2="534.8" stroke="#000" stroke-width="2"/><text x="904.02" y="540" font-size="15" fill="#000">35,000</text><text x="965.26" y="787.95" font-size="15" fill="#000">20</text><text x="1000.97" y="787.95" font-size="15" fill="#000">40</text><text x="1036.23" y="787.95" font-size="15" fill="#000">60</text><text x="1071.76" y="787.95" font-size="15" fill="#000">80</text><text x="1102.86" y="787.95" font-size="15" fill="#000">100</text><text x="1138.34" y="787.95" font-size="15" fill="#000">120</text><text x="1173.83" y="787.95" font-size="15" fill="#000">140</text><text x="1209.31" y="787.95" font-size="15" fill="#000">160</text><text x="1244.8" y="787.95" font-size="15" fill="#000">180</text><text x="1280.47" y="787.95" font-size="15" fill="#000">200</text><text x="1315.96" y="787.95" font-size="15" fill="#000">220</text><text x="1351.44" y="787.95" font-size="15" fill="#000">240</text><text x="1386.93" y="787.95" font-size="15" fill="#000">260</text><text x="1422.41" y="787.95" font-size="15" fill="#000">280</text><text x="1457.97" y="787.95" font-size="15" fill="#000">300</text><text transform="translate(1505.49 741.54) scale(1.0424 1)" font-size="15.5" font-weight="bold" fill="#000">(mM)</text><text transform="translate(1503.7 785.94) scale(1.0372 1)" font-size="15.5" font-weight="bold" fill="#000">(min)</text><text transform="translate(897.9 644) rotate(-90)" font-size="16" text-anchor="middle">% of baseline</text><text x="1104.23" y="762.95" font-size="34.16" font-weight="bold" fill="#E07D3A">**</text><text x="1207.43" y="739.76" font-size="34.29" font-weight="bold" fill="#E07D3A">**</text><text x="1213.39" y="746.61" font-size="20.76" font-weight="bold" fill="#4470B8" stroke="#4470B8" stroke-width="0.6">#</text><text x="1329.74" y="703.11" font-size="32.11" font-weight="bold" fill="#E07D3A">*</text><text x="1329.59" y="709.93" font-size="20.38" font-weight="bold" fill="#4470B8" stroke="#4470B8" stroke-width="0.6">#</text><line x1="1106.9" y1="817.1" x2="1135.4" y2="817.1" stroke="#416DB6" stroke-width="5.4" stroke-linecap="round"/><circle cx="1121.15" cy="817.1" r="4.8" fill="#416DB6"/><line x1="1175" y1="817.1" x2="1203.5" y2="817.1" stroke="#E67C34" stroke-width="5.4" stroke-linecap="round"/><circle cx="1189.25" cy="817.1" r="4.8" fill="#E67C34"/><text transform="translate(1139.93 821.7) scale(0.9412 1)" font-size="15" fill="#000">WT</text><text transform="translate(1207.8 821.55) scale(1.0069 1)" font-size="15" fill="#000">TRPA1-KO</text><rect x="1046.3" y="861.9" width="36.4" height="220.7" fill="#C9CACC"/><rect x="1154.6" y="861.9" width="36.8" height="220.7" fill="#C9CACC"/><rect x="1261.9" y="861.9" width="36.8" height="220.7" fill="#C9CACC"/><text x="1058.37" y="1062.1" font-size="15.5" font-weight="bold" fill="#000">1</text><text x="1167.11" y="1061.94" font-size="15.5" font-weight="bold" fill="#000">3</text><text x="1270.57" y="1016.75" font-size="15.5" font-weight="bold" fill="#000">10</text><line x1="955.9" y1="1083.7" x2="955.9" y2="862.3" stroke="#000" stroke-width="2.2"/><line x1="951.3" y1="1082.6" x2="1496.6" y2="1082.6" stroke="#000" stroke-width="2.2"/><line x1="974.2" y1="1082.6" x2="974.2" y2="1087.2" stroke="#000" stroke-width="2"/><line x1="1010.16" y1="1082.6" x2="1010.16" y2="1087.2" stroke="#000" stroke-width="2"/><line x1="1046.11" y1="1082.6" x2="1046.11" y2="1087.2" stroke="#000" stroke-width="2"/><line x1="1082.07" y1="1082.6" x2="1082.07" y2="1087.2" stroke="#000" stroke-width="2"/><line x1="1118.03" y1="1082.6" x2="1118.03" y2="1087.2" stroke="#000" stroke-width="2"/><line x1="1153.99" y1="1082.6" x2="1153.99" y2="1087.2" stroke="#000" stroke-width="2"/><line x1="1189.94" y1="1082.6" x2="1189.94" y2="1087.2" stroke="#000" stroke-width="2"/><line x1="1225.9" y1="1082.6" x2="1225.9" y2="1087.2" stroke="#000" stroke-width="2"/><line x1="1261.86" y1="1082.6" x2="1261.86" y2="1087.2" stroke="#000" stroke-width="2"/><line x1="1297.81" y1="1082.6" x2="1297.81" y2="1087.2" stroke="#000" stroke-width="2"/><line x1="1333.77" y1="1082.6" x2="1333.77" y2="1087.2" stroke="#000" stroke-width="2"/><line x1="1369.73" y1="1082.6" x2="1369.73" y2="1087.2" stroke="#000" stroke-width="2"/><line x1="1405.69" y1="1082.6" x2="1405.69" y2="1087.2" stroke="#000" stroke-width="2"/><line x1="1441.64" y1="1082.6" x2="1441.64" y2="1087.2" stroke="#000" stroke-width="2"/><line x1="1477.6" y1="1082.6" x2="1477.6" y2="1087.2" stroke="#000" stroke-width="2"/><line x1="1495.6" y1="1082.6" x2="1495.6" y2="1087.2" stroke="#000" stroke-width="2"/><clipPath id="c7"><rect x="955.9" y="861.9" width="549.7" height="239.2"/></clipPath><g clip-path="url(#c7)"><path d="M1082.07 1059.19 V1076.2 M1078.77 1059.19 H1085.37 M1078.77 1076.2 H1085.37" stroke="#5A5A5A" stroke-width="2.1" fill="none"/><path d="M1225.9 1052.04 V1069.58 M1222.6 1052.04 H1229.2 M1222.6 1069.58 H1229.2" stroke="#5A5A5A" stroke-width="2.1" fill="none"/><path d="M1297.81 1005.88 V1058.31 M1294.51 1005.88 H1301.11 M1294.51 1058.31 H1301.11" stroke="#5A5A5A" stroke-width="2.1" fill="none"/><path d="M1333.77 825.57 V1013.2 M1330.47 825.57 H1337.07 M1330.47 1013.2 H1337.07" stroke="#5A5A5A" stroke-width="2.1" fill="none"/><path d="M1369.73 1055.11 V1071.68 M1366.43 1055.11 H1373.03 M1366.43 1071.68 H1373.03" stroke="#5A5A5A" stroke-width="2.1" fill="none"/><path d="M1189.94 1054.54 V1064.45 M1186.64 1054.54 H1193.24 M1186.64 1064.45 H1193.24" stroke="#5A5A5A" stroke-width="2.1" fill="none"/><path d="M1225.9 990.89 V1050.51 M1222.6 990.89 H1229.2 M1222.6 1050.51 H1229.2" stroke="#5A5A5A" stroke-width="2.1" fill="none"/><path d="M1297.81 985.89 V1035.69 M1294.51 985.89 H1301.11 M1294.51 1035.69 H1301.11" stroke="#5A5A5A" stroke-width="2.1" fill="none"/><path d="M1333.77 743.28 V935.3 M1330.47 743.28 H1337.07 M1330.47 935.3 H1337.07" stroke="#5A5A5A" stroke-width="2.1" fill="none"/><path d="M1369.73 1026.48 V1058.14 M1366.43 1026.48 H1373.03 M1366.43 1058.14 H1373.03" stroke="#5A5A5A" stroke-width="2.1" fill="none"/><path d="M1405.69 1059.5 V1071.33 M1402.39 1059.5 H1408.99 M1402.39 1071.33 H1408.99" stroke="#5A5A5A" stroke-width="2.1" fill="none"/><polyline points="974.2,1077.03 1010.16,1079.01 1046.11,1077.56 1082.07,1067.69 1118.03,1074.4 1153.99,1078.65 1189.94,1069.71 1225.9,1060.81 1261.86,1077.3 1297.81,1032.1 1333.77,919.38 1369.73,1063.4 1405.69,1073.48 1441.64,1075.5 1477.6,1076.02" fill="none" stroke="#416DB6" stroke-width="5.4" stroke-linejoin="round"/><circle cx="974.2" cy="1077.03" r="4.8" fill="#416DB6"/><circle cx="1010.16" cy="1079.01" r="4.8" fill="#416DB6"/><circle cx="1046.11" cy="1077.56" r="4.8" fill="#416DB6"/><circle cx="1082.07" cy="1067.69" r="4.8" fill="#416DB6"/><circle cx="1118.03" cy="1074.4" r="4.8" fill="#416DB6"/><circle cx="1153.99" cy="1078.65" r="4.8" fill="#416DB6"/><circle cx="1189.94" cy="1069.71" r="4.8" fill="#416DB6"/><circle cx="1225.9" cy="1060.81" r="4.8" fill="#416DB6"/><circle cx="1261.86" cy="1077.3" r="4.8" fill="#416DB6"/><circle cx="1297.81" cy="1032.1" r="4.8" fill="#416DB6"/><circle cx="1333.77" cy="919.38" r="4.8" fill="#416DB6"/><circle cx="1369.73" cy="1063.4" r="4.8" fill="#416DB6"/><circle cx="1405.69" cy="1073.48" r="4.8" fill="#416DB6"/><circle cx="1441.64" cy="1075.5" r="4.8" fill="#416DB6"/><circle cx="1477.6" cy="1076.02" r="4.8" fill="#416DB6"/><polyline points="974.2,1078.39 1010.16,1078.65 1046.11,1077.56 1082.07,1074.4 1118.03,1071.51 1153.99,1078.22 1189.94,1059.5 1225.9,1020.7 1261.86,1072.21 1297.81,1010.79 1333.77,839.29 1369.73,1042.31 1405.69,1065.41 1441.64,1069.71 1477.6,1070.98" fill="none" stroke="#E67C34" stroke-width="5.4" stroke-linejoin="round"/><circle cx="974.2" cy="1078.39" r="4.8" fill="#E67C34"/><circle cx="1010.16" cy="1078.65" r="4.8" fill="#E67C34"/><circle cx="1046.11" cy="1077.56" r="4.8" fill="#E67C34"/><circle cx="1082.07" cy="1074.4" r="4.8" fill="#E67C34"/><circle cx="1118.03" cy="1071.51" r="4.8" fill="#E67C34"/><circle cx="1153.99" cy="1078.22" r="4.8" fill="#E67C34"/><circle cx="1189.94" cy="1059.5" r="4.8" fill="#E67C34"/><circle cx="1225.9" cy="1020.7" r="4.8" fill="#E67C34"/><circle cx="1261.86" cy="1072.21" r="4.8" fill="#E67C34"/><circle cx="1297.81" cy="1010.79" r="4.8" fill="#E67C34"/><circle cx="1333.77" cy="839.29" r="4.8" fill="#E67C34"/><circle cx="1369.73" cy="1042.31" r="4.8" fill="#E67C34"/><circle cx="1405.69" cy="1065.41" r="4.8" fill="#E67C34"/><circle cx="1441.64" cy="1069.71" r="4.8" fill="#E67C34"/><circle cx="1477.6" cy="1070.98" r="4.8" fill="#E67C34"/></g><line x1="951.3" y1="1082.6" x2="955.9" y2="1082.6" stroke="#000" stroke-width="2"/><text x="936.2" y="1087.77" font-size="15" fill="#000">0</text><line x1="951.3" y1="1060.68" x2="955.9" y2="1060.68" stroke="#000" stroke-width="2"/><text x="919.55" y="1065.85" font-size="15" fill="#000">500</text><line x1="951.3" y1="1038.76" x2="955.9" y2="1038.76" stroke="#000" stroke-width="2"/><text x="912.42" y="1043.96" font-size="15" fill="#000">1,000</text><line x1="951.3" y1="1016.84" x2="955.9" y2="1016.84" stroke="#000" stroke-width="2"/><text x="912.42" y="1022.04" font-size="15" fill="#000">1,500</text><line x1="951.3" y1="994.92" x2="955.9" y2="994.92" stroke="#000" stroke-width="2"/><text x="912.42" y="1000.12" font-size="15" fill="#000">2,000</text><line x1="951.3" y1="973" x2="955.9" y2="973" stroke="#000" stroke-width="2"/><text x="912.42" y="978.2" font-size="15" fill="#000">2,500</text><line x1="951.3" y1="951.08" x2="955.9" y2="951.08" stroke="#000" stroke-width="2"/><text x="912.42" y="956.28" font-size="15" fill="#000">3,000</text><line x1="951.3" y1="929.16" x2="955.9" y2="929.16" stroke="#000" stroke-width="2"/><text x="912.42" y="934.36" font-size="15" fill="#000">3,500</text><line x1="951.3" y1="907.24" x2="955.9" y2="907.24" stroke="#000" stroke-width="2"/><text x="912.42" y="912.44" font-size="15" fill="#000">4,000</text><line x1="951.3" y1="885.32" x2="955.9" y2="885.32" stroke="#000" stroke-width="2"/><text x="912.42" y="890.52" font-size="15" fill="#000">4,500</text><line x1="951.3" y1="863.4" x2="955.9" y2="863.4" stroke="#000" stroke-width="2"/><text x="912.42" y="868.6" font-size="15" fill="#000">5,000</text><text x="966.76" y="1104.35" font-size="15" fill="#000">20</text><text x="1002.94" y="1104.35" font-size="15" fill="#000">40</text><text x="1038.68" y="1104.35" font-size="15" fill="#000">60</text><text x="1074.67" y="1104.35" font-size="15" fill="#000">80</text><text x="1106.24" y="1104.35" font-size="15" fill="#000">100</text><text x="1142.2" y="1104.35" font-size="15" fill="#000">120</text><text x="1178.16" y="1104.35" font-size="15" fill="#000">140</text><text x="1214.11" y="1104.35" font-size="15" fill="#000">160</text><text x="1250.07" y="1104.35" font-size="15" fill="#000">180</text><text x="1286.21" y="1104.35" font-size="15" fill="#000">200</text><text x="1322.17" y="1104.35" font-size="15" fill="#000">220</text><text x="1358.13" y="1104.35" font-size="15" fill="#000">240</text><text x="1394.09" y="1104.35" font-size="15" fill="#000">260</text><text x="1430.04" y="1104.35" font-size="15" fill="#000">280</text><text x="1466.07" y="1104.35" font-size="15" fill="#000">300</text><text transform="translate(1505.49 1062.64) scale(1.0424 1)" font-size="15.5" font-weight="bold" fill="#000">(mM)</text><text transform="translate(1505.5 1105.04) scale(1.0372 1)" font-size="15.5" font-weight="bold" fill="#000">(min)</text><text transform="translate(906.2 968.9) rotate(-90)" font-size="16" text-anchor="middle">% of baseline</text><text x="1104.63" y="1071.94" font-size="33.64" font-weight="bold" fill="#E07D3A">**</text><text x="1229.43" y="1024.98" font-size="34.03" font-weight="bold" fill="#E07D3A">**</text><text x="1208.99" y="1057.12" font-size="20.95" font-weight="bold" fill="#4470B8" stroke="#4470B8" stroke-width="0.6">#</text><text x="1351.33" y="891.53" font-size="33.42" font-weight="bold" fill="#E07D3A">*</text><text x="1358.8" y="926.16" font-size="20.19" font-weight="bold" fill="#4470B8" stroke="#4470B8" stroke-width="0.6">#</text><line x1="1115.4" y1="1132.4" x2="1144.7" y2="1132.4" stroke="#416DB6" stroke-width="5.4" stroke-linecap="round"/><circle cx="1130.05" cy="1132.4" r="4.8" fill="#416DB6"/><line x1="1182.7" y1="1132.4" x2="1211.9" y2="1132.4" stroke="#E67C34" stroke-width="5.4" stroke-linecap="round"/><circle cx="1197.3" cy="1132.4" r="4.8" fill="#E67C34"/><text transform="translate(1148.93 1137) scale(0.9412 1)" font-size="15" fill="#000">WT</text><text transform="translate(1216.7 1136.85) scale(1.0069 1)" font-size="15" fill="#000">TRPA1-KO</text><rect x="1050.8" y="1293" width="36.2" height="231.3" fill="#C9CACC"/><rect x="1158.4" y="1293" width="36.3" height="231.3" fill="#C9CACC"/><rect x="1265.9" y="1293" width="36.8" height="231.3" fill="#C9CACC"/><text x="1062.87" y="1497.5" font-size="15.5" font-weight="bold" fill="#000">1</text><text x="1172.11" y="1497.35" font-size="15.5" font-weight="bold" fill="#000">3</text><text x="1273.17" y="1481.44" font-size="15.5" font-weight="bold" fill="#000">10</text><line x1="961.5" y1="1525.4" x2="961.5" y2="1293.1" stroke="#000" stroke-width="2.2"/><line x1="956.9" y1="1524.3" x2="1502.2" y2="1524.3" stroke="#000" stroke-width="2.2"/><line x1="980" y1="1524.3" x2="980" y2="1528.9" stroke="#000" stroke-width="2"/><line x1="1016" y1="1524.3" x2="1016" y2="1528.9" stroke="#000" stroke-width="2"/><line x1="1052" y1="1524.3" x2="1052" y2="1528.9" stroke="#000" stroke-width="2"/><line x1="1088" y1="1524.3" x2="1088" y2="1528.9" stroke="#000" stroke-width="2"/><line x1="1124" y1="1524.3" x2="1124" y2="1528.9" stroke="#000" stroke-width="2"/><line x1="1160" y1="1524.3" x2="1160" y2="1528.9" stroke="#000" stroke-width="2"/><line x1="1196" y1="1524.3" x2="1196" y2="1528.9" stroke="#000" stroke-width="2"/><line x1="1232" y1="1524.3" x2="1232" y2="1528.9" stroke="#000" stroke-width="2"/><line x1="1268" y1="1524.3" x2="1268" y2="1528.9" stroke="#000" stroke-width="2"/><line x1="1304" y1="1524.3" x2="1304" y2="1528.9" stroke="#000" stroke-width="2"/><line x1="1340" y1="1524.3" x2="1340" y2="1528.9" stroke="#000" stroke-width="2"/><line x1="1376" y1="1524.3" x2="1376" y2="1528.9" stroke="#000" stroke-width="2"/><line x1="1412" y1="1524.3" x2="1412" y2="1528.9" stroke="#000" stroke-width="2"/><line x1="1448" y1="1524.3" x2="1448" y2="1528.9" stroke="#000" stroke-width="2"/><line x1="1484" y1="1524.3" x2="1484" y2="1528.9" stroke="#000" stroke-width="2"/><line x1="1501.2" y1="1524.3" x2="1501.2" y2="1528.9" stroke="#000" stroke-width="2"/><clipPath id="c8"><rect x="961.5" y="1292.7" width="549.7" height="250.1"/></clipPath><g clip-path="url(#c8)"><path d="M980 1515.67 V1516.9 M976.7 1515.67 H983.3 M976.7 1516.9 H983.3" stroke="#5A5A5A" stroke-width="2.1" fill="none"/><path d="M1052 1515.52 V1517.05 M1048.7 1515.52 H1055.3 M1048.7 1517.05 H1055.3" stroke="#5A5A5A" stroke-width="2.1" fill="none"/><path d="M1088 1512.79 V1516.25 M1084.7 1512.79 H1091.3 M1084.7 1516.25 H1091.3" stroke="#5A5A5A" stroke-width="2.1" fill="none"/><path d="M1124 1516.22 V1518.67 M1120.7 1516.22 H1127.3 M1120.7 1518.67 H1127.3" stroke="#5A5A5A" stroke-width="2.1" fill="none"/><path d="M1160 1512.79 V1516.48 M1156.7 1512.79 H1163.3 M1156.7 1516.48 H1163.3" stroke="#5A5A5A" stroke-width="2.1" fill="none"/><path d="M1196 1513.12 V1517.11 M1192.7 1513.12 H1199.3 M1192.7 1517.11 H1199.3" stroke="#5A5A5A" stroke-width="2.1" fill="none"/><path d="M1232 1508.5 V1514.64 M1228.7 1508.5 H1235.3 M1228.7 1514.64 H1235.3" stroke="#5A5A5A" stroke-width="2.1" fill="none"/><path d="M1268 1504.43 V1513.79 M1264.7 1504.43 H1271.3 M1264.7 1513.79 H1271.3" stroke="#5A5A5A" stroke-width="2.1" fill="none"/><path d="M1304 1498.63 V1509.37 M1300.7 1498.63 H1307.3 M1300.7 1509.37 H1307.3" stroke="#5A5A5A" stroke-width="2.1" fill="none"/><path d="M1340 1432.26 V1473.98 M1336.7 1432.26 H1343.3 M1336.7 1473.98 H1343.3" stroke="#5A5A5A" stroke-width="2.1" fill="none"/><path d="M1376 1477.67 V1501.6 M1372.7 1477.67 H1379.3 M1372.7 1501.6 H1379.3" stroke="#5A5A5A" stroke-width="2.1" fill="none"/><path d="M1412 1497.15 V1511.26 M1408.7 1497.15 H1415.3 M1408.7 1511.26 H1415.3" stroke="#5A5A5A" stroke-width="2.1" fill="none"/><path d="M1448 1498.53 V1512.79 M1444.7 1498.53 H1451.3 M1444.7 1512.79 H1451.3" stroke="#5A5A5A" stroke-width="2.1" fill="none"/><path d="M1484 1499.4 V1513.21 M1480.7 1499.4 H1487.3 M1480.7 1513.21 H1487.3" stroke="#5A5A5A" stroke-width="2.1" fill="none"/><path d="M1088 1515.94 V1517.01 M1084.7 1515.94 H1091.3 M1084.7 1517.01 H1091.3" stroke="#5A5A5A" stroke-width="2.1" fill="none"/><path d="M1124 1514.97 V1517.43 M1120.7 1514.97 H1127.3 M1120.7 1517.43 H1127.3" stroke="#5A5A5A" stroke-width="2.1" fill="none"/><path d="M1160 1513.11 V1518.02 M1156.7 1513.11 H1163.3 M1156.7 1518.02 H1163.3" stroke="#5A5A5A" stroke-width="2.1" fill="none"/><path d="M1196 1511.64 V1517.17 M1192.7 1511.64 H1199.3 M1192.7 1517.17 H1199.3" stroke="#5A5A5A" stroke-width="2.1" fill="none"/><path d="M1232 1504.66 V1511.95 M1228.7 1504.66 H1235.3 M1228.7 1511.95 H1235.3" stroke="#5A5A5A" stroke-width="2.1" fill="none"/><path d="M1268 1507.66 V1517.17 M1264.7 1507.66 H1271.3 M1264.7 1517.17 H1271.3" stroke="#5A5A5A" stroke-width="2.1" fill="none"/><path d="M1304 1467.08 V1503.74 M1300.7 1467.08 H1307.3 M1300.7 1503.74 H1307.3" stroke="#5A5A5A" stroke-width="2.1" fill="none"/><path d="M1340 1376.19 V1465.16 M1336.7 1376.19 H1343.3 M1336.7 1465.16 H1343.3" stroke="#5A5A5A" stroke-width="2.1" fill="none"/><path d="M1376 1476.36 V1505.97 M1372.7 1476.36 H1379.3 M1372.7 1505.97 H1379.3" stroke="#5A5A5A" stroke-width="2.1" fill="none"/><path d="M1412 1489.67 V1509.31 M1408.7 1489.67 H1415.3 M1408.7 1509.31 H1415.3" stroke="#5A5A5A" stroke-width="2.1" fill="none"/><path d="M1448 1493.7 V1511.03 M1444.7 1493.7 H1451.3 M1444.7 1511.03 H1451.3" stroke="#5A5A5A" stroke-width="2.1" fill="none"/><path d="M1484 1506.37 V1510.88 M1480.7 1506.37 H1487.3 M1480.7 1510.88 H1487.3" stroke="#5A5A5A" stroke-width="2.1" fill="none"/><polyline points="980,1516.28 1016,1517.24 1052,1516.28 1088,1514.52 1124,1517.44 1160,1514.64 1196,1515.11 1232,1511.57 1268,1509.11 1304,1504 1340,1453.12 1376,1489.63 1412,1504.2 1448,1505.66 1484,1506.31" fill="none" stroke="#416DB6" stroke-width="5.4" stroke-linejoin="round"/><circle cx="980" cy="1516.28" r="4.8" fill="#416DB6"/><circle cx="1016" cy="1517.24" r="4.8" fill="#416DB6"/><circle cx="1052" cy="1516.28" r="4.8" fill="#416DB6"/><circle cx="1088" cy="1514.52" r="4.8" fill="#416DB6"/><circle cx="1124" cy="1517.44" r="4.8" fill="#416DB6"/><circle cx="1160" cy="1514.64" r="4.8" fill="#416DB6"/><circle cx="1196" cy="1515.11" r="4.8" fill="#416DB6"/><circle cx="1232" cy="1511.57" r="4.8" fill="#416DB6"/><circle cx="1268" cy="1509.11" r="4.8" fill="#416DB6"/><circle cx="1304" cy="1504" r="4.8" fill="#416DB6"/><circle cx="1340" cy="1453.12" r="4.8" fill="#416DB6"/><circle cx="1376" cy="1489.63" r="4.8" fill="#416DB6"/><circle cx="1412" cy="1504.2" r="4.8" fill="#416DB6"/><circle cx="1448" cy="1505.66" r="4.8" fill="#416DB6"/><circle cx="1484" cy="1506.31" r="4.8" fill="#416DB6"/><polyline points="980,1516.58 1016,1517.24 1052,1515.89 1088,1516.48 1124,1516.2 1160,1515.56 1196,1514.41 1232,1508.31 1268,1512.41 1304,1485.41 1340,1420.68 1376,1491.17 1412,1499.49 1448,1502.36 1484,1508.62" fill="none" stroke="#E67C34" stroke-width="5.4" stroke-linejoin="round"/><circle cx="980" cy="1516.58" r="4.8" fill="#E67C34"/><circle cx="1016" cy="1517.24" r="4.8" fill="#E67C34"/><circle cx="1052" cy="1515.89" r="4.8" fill="#E67C34"/><circle cx="1088" cy="1516.48" r="4.8" fill="#E67C34"/><circle cx="1124" cy="1516.2" r="4.8" fill="#E67C34"/><circle cx="1160" cy="1515.56" r="4.8" fill="#E67C34"/><circle cx="1196" cy="1514.41" r="4.8" fill="#E67C34"/><circle cx="1232" cy="1508.31" r="4.8" fill="#E67C34"/><circle cx="1268" cy="1512.41" r="4.8" fill="#E67C34"/><circle cx="1304" cy="1485.41" r="4.8" fill="#E67C34"/><circle cx="1340" cy="1420.68" r="4.8" fill="#E67C34"/><circle cx="1376" cy="1491.17" r="4.8" fill="#E67C34"/><circle cx="1412" cy="1499.49" r="4.8" fill="#E67C34"/><circle cx="1448" cy="1502.36" r="4.8" fill="#E67C34"/><circle cx="1484" cy="1508.62" r="4.8" fill="#E67C34"/></g><line x1="956.9" y1="1524.3" x2="961.5" y2="1524.3" stroke="#000" stroke-width="2"/><text x="943.2" y="1529.47" font-size="15" fill="#000">0</text><line x1="956.9" y1="1485.95" x2="961.5" y2="1485.95" stroke="#000" stroke-width="2"/><text x="926.55" y="1491.12" font-size="15" fill="#000">500</text><line x1="956.9" y1="1447.6" x2="961.5" y2="1447.6" stroke="#000" stroke-width="2"/><text x="920.02" y="1452.8" font-size="15" fill="#000" textLength="38.49" lengthAdjust="spacing">1,000</text><line x1="956.9" y1="1409.25" x2="961.5" y2="1409.25" stroke="#000" stroke-width="2"/><text x="920.02" y="1414.45" font-size="15" fill="#000" textLength="38.49" lengthAdjust="spacing">1,500</text><line x1="956.9" y1="1370.9" x2="961.5" y2="1370.9" stroke="#000" stroke-width="2"/><text x="920.02" y="1376.1" font-size="15" fill="#000" textLength="38.11" lengthAdjust="spacing">2,000</text><line x1="956.9" y1="1332.55" x2="961.5" y2="1332.55" stroke="#000" stroke-width="2"/><text x="920.02" y="1337.75" font-size="15" fill="#000" textLength="38.11" lengthAdjust="spacing">2,500</text><line x1="956.9" y1="1294.2" x2="961.5" y2="1294.2" stroke="#000" stroke-width="2"/><text x="920.02" y="1299.4" font-size="15" fill="#000" textLength="37.96" lengthAdjust="spacing">3,000</text><text x="972.56" y="1548.65" font-size="15" fill="#000">20</text><text x="1008.79" y="1548.65" font-size="15" fill="#000">40</text><text x="1044.56" y="1548.65" font-size="15" fill="#000">60</text><text x="1080.6" y="1548.65" font-size="15" fill="#000">80</text><text x="1112.21" y="1548.65" font-size="15" fill="#000">100</text><text x="1148.21" y="1548.65" font-size="15" fill="#000">120</text><text x="1184.21" y="1548.65" font-size="15" fill="#000">140</text><text x="1220.21" y="1548.65" font-size="15" fill="#000">160</text><text x="1256.21" y="1548.65" font-size="15" fill="#000">180</text><text x="1292.4" y="1548.65" font-size="15" fill="#000">200</text><text x="1328.4" y="1548.65" font-size="15" fill="#000">220</text><text x="1364.4" y="1548.65" font-size="15" fill="#000">240</text><text x="1400.4" y="1548.65" font-size="15" fill="#000">260</text><text x="1436.4" y="1548.65" font-size="15" fill="#000">280</text><text x="1472.47" y="1548.65" font-size="15" fill="#000">300</text><text transform="translate(1508.79 1514.34) scale(1.0424 1)" font-size="15.5" font-weight="bold" fill="#000">(mM)</text><text transform="translate(1508.8 1546.64) scale(1.0372 1)" font-size="15.5" font-weight="bold" fill="#000">(min)</text><text transform="translate(912 1407) rotate(-90)" font-size="16" text-anchor="middle">% of baseline</text><text x="1217.53" y="1510.91" font-size="34.29" font-weight="bold" fill="#E07D3A">**</text><text x="1345.44" y="1424.81" font-size="32.11" font-weight="bold" fill="#E07D3A">*</text><line x1="1120.7" y1="1577.2" x2="1149.9" y2="1577.2" stroke="#416DB6" stroke-width="5.4" stroke-linecap="round"/><circle cx="1135.3" cy="1577.2" r="4.8" fill="#416DB6"/><line x1="1189" y1="1577.2" x2="1217" y2="1577.2" stroke="#E67C34" stroke-width="5.4" stroke-linecap="round"/><circle cx="1203" cy="1577.2" r="4.8" fill="#E67C34"/><text transform="translate(1154.13 1581.5) scale(0.9412 1)" font-size="15" fill="#000">WT</text><text transform="translate(1221.7 1581.35) scale(1.0069 1)" font-size="15" fill="#000">TRPA1-KO</text><rect x="1056.4" y="1627.3" width="36.4" height="223.8" fill="#C9CACC"/><rect x="1166.9" y="1627.3" width="36.7" height="223.8" fill="#C9CACC"/><rect x="1277.1" y="1627.3" width="36.8" height="223.8" fill="#C9CACC"/><text x="1068.37" y="1841.7" font-size="15.5" font-weight="bold" fill="#000">1</text><text x="1180.51" y="1841.55" font-size="15.5" font-weight="bold" fill="#000">3</text><text x="1286.37" y="1841.44" font-size="15.5" font-weight="bold" fill="#000">10</text><line x1="965.3" y1="1852.2" x2="965.3" y2="1631.3" stroke="#000" stroke-width="2.2"/><line x1="960.7" y1="1851.1" x2="1516.7" y2="1851.1" stroke="#000" stroke-width="2.2"/><line x1="982.7" y1="1851.1" x2="982.7" y2="1855.7" stroke="#000" stroke-width="2"/><line x1="1019.46" y1="1851.1" x2="1019.46" y2="1855.7" stroke="#000" stroke-width="2"/><line x1="1056.23" y1="1851.1" x2="1056.23" y2="1855.7" stroke="#000" stroke-width="2"/><line x1="1092.99" y1="1851.1" x2="1092.99" y2="1855.7" stroke="#000" stroke-width="2"/><line x1="1129.76" y1="1851.1" x2="1129.76" y2="1855.7" stroke="#000" stroke-width="2"/><line x1="1166.52" y1="1851.1" x2="1166.52" y2="1855.7" stroke="#000" stroke-width="2"/><line x1="1203.29" y1="1851.1" x2="1203.29" y2="1855.7" stroke="#000" stroke-width="2"/><line x1="1240.05" y1="1851.1" x2="1240.05" y2="1855.7" stroke="#000" stroke-width="2"/><line x1="1276.81" y1="1851.1" x2="1276.81" y2="1855.7" stroke="#000" stroke-width="2"/><line x1="1313.58" y1="1851.1" x2="1313.58" y2="1855.7" stroke="#000" stroke-width="2"/><line x1="1350.34" y1="1851.1" x2="1350.34" y2="1855.7" stroke="#000" stroke-width="2"/><line x1="1387.11" y1="1851.1" x2="1387.11" y2="1855.7" stroke="#000" stroke-width="2"/><line x1="1423.87" y1="1851.1" x2="1423.87" y2="1855.7" stroke="#000" stroke-width="2"/><line x1="1460.64" y1="1851.1" x2="1460.64" y2="1855.7" stroke="#000" stroke-width="2"/><line x1="1497.4" y1="1851.1" x2="1497.4" y2="1855.7" stroke="#000" stroke-width="2"/><line x1="1515.7" y1="1851.1" x2="1515.7" y2="1855.7" stroke="#000" stroke-width="2"/><clipPath id="c9"><rect x="965.3" y="1630.9" width="560.4" height="238.7"/></clipPath><g clip-path="url(#c9)"><path d="M982.7 1801.89 V1808.89 M979.4 1801.89 H986 M979.4 1808.89 H986" stroke="#5A5A5A" stroke-width="2.1" fill="none"/><path d="M1056.23 1801.02 V1809.77 M1052.93 1801.02 H1059.53 M1052.93 1809.77 H1059.53" stroke="#5A5A5A" stroke-width="2.1" fill="none"/><path d="M1092.99 1785.49 V1805.17 M1089.69 1785.49 H1096.29 M1089.69 1805.17 H1096.29" stroke="#5A5A5A" stroke-width="2.1" fill="none"/><path d="M1129.76 1805 V1818.99 M1126.46 1805 H1133.06 M1126.46 1818.99 H1133.06" stroke="#5A5A5A" stroke-width="2.1" fill="none"/><path d="M1166.52 1785.49 V1806.49 M1163.22 1785.49 H1169.82 M1163.22 1806.49 H1169.82" stroke="#5A5A5A" stroke-width="2.1" fill="none"/><path d="M1203.29 1787.33 V1810.07 M1199.99 1787.33 H1206.59 M1199.99 1810.07 H1206.59" stroke="#5A5A5A" stroke-width="2.1" fill="none"/><path d="M1240.05 1761 V1795.99 M1236.75 1761 H1243.35 M1236.75 1795.99 H1243.35" stroke="#5A5A5A" stroke-width="2.1" fill="none"/><path d="M1276.81 1737.81 V1791.18 M1273.51 1737.81 H1280.11 M1273.51 1791.18 H1280.11" stroke="#5A5A5A" stroke-width="2.1" fill="none"/><path d="M1313.58 1704.7 V1765.94 M1310.28 1704.7 H1316.88 M1310.28 1765.94 H1316.88" stroke="#5A5A5A" stroke-width="2.1" fill="none"/><path d="M1350.34 1326.22 V1564.17 M1347.04 1326.22 H1353.64 M1347.04 1564.17 H1353.64" stroke="#5A5A5A" stroke-width="2.1" fill="none"/><path d="M1387.11 1585.16 V1721.63 M1383.81 1585.16 H1390.41 M1383.81 1721.63 H1390.41" stroke="#5A5A5A" stroke-width="2.1" fill="none"/><path d="M1423.87 1696.26 V1776.74 M1420.57 1696.26 H1427.17 M1420.57 1776.74 H1427.17" stroke="#5A5A5A" stroke-width="2.1" fill="none"/><path d="M1460.64 1704.13 V1785.49 M1457.34 1704.13 H1463.94 M1457.34 1785.49 H1463.94" stroke="#5A5A5A" stroke-width="2.1" fill="none"/><path d="M1497.4 1709.12 V1787.85 M1494.1 1709.12 H1500.7 M1494.1 1787.85 H1500.7" stroke="#5A5A5A" stroke-width="2.1" fill="none"/><path d="M1092.99 1803.42 V1809.55 M1089.69 1803.42 H1096.29 M1089.69 1809.55 H1096.29" stroke="#5A5A5A" stroke-width="2.1" fill="none"/><path d="M1129.76 1797.91 V1811.91 M1126.46 1797.91 H1133.06 M1126.46 1811.91 H1133.06" stroke="#5A5A5A" stroke-width="2.1" fill="none"/><path d="M1166.52 1787.28 V1815.28 M1163.22 1787.28 H1169.82 M1163.22 1815.28 H1169.82" stroke="#5A5A5A" stroke-width="2.1" fill="none"/><path d="M1203.29 1778.93 V1810.42 M1199.99 1778.93 H1206.59 M1199.99 1810.42 H1206.59" stroke="#5A5A5A" stroke-width="2.1" fill="none"/><path d="M1240.05 1739.13 V1780.68 M1236.75 1739.13 H1243.35 M1236.75 1780.68 H1243.35" stroke="#5A5A5A" stroke-width="2.1" fill="none"/><path d="M1276.81 1756.18 V1810.42 M1273.51 1756.18 H1280.11 M1273.51 1810.42 H1280.11" stroke="#5A5A5A" stroke-width="2.1" fill="none"/><path d="M1313.58 1524.8 V1733.88 M1310.28 1524.8 H1316.88 M1310.28 1733.88 H1316.88" stroke="#5A5A5A" stroke-width="2.1" fill="none"/><path d="M1350.34 1006.48 V1513.86 M1347.04 1006.48 H1353.64 M1347.04 1513.86 H1353.64" stroke="#5A5A5A" stroke-width="2.1" fill="none"/><path d="M1387.11 1577.73 V1746.56 M1383.81 1577.73 H1390.41 M1383.81 1746.56 H1390.41" stroke="#5A5A5A" stroke-width="2.1" fill="none"/><path d="M1423.87 1653.61 V1765.59 M1420.57 1653.61 H1427.17 M1420.57 1765.59 H1427.17" stroke="#5A5A5A" stroke-width="2.1" fill="none"/><path d="M1460.64 1676.58 V1775.43 M1457.34 1676.58 H1463.94 M1457.34 1775.43 H1463.94" stroke="#5A5A5A" stroke-width="2.1" fill="none"/><path d="M1497.4 1748.84 V1774.56 M1494.1 1748.84 H1500.7 M1494.1 1774.56 H1500.7" stroke="#5A5A5A" stroke-width="2.1" fill="none"/><polyline points="982.7,1805.39 1019.46,1810.86 1056.23,1805.39 1092.99,1795.33 1129.76,1812 1166.52,1795.99 1203.29,1798.7 1240.05,1778.49 1276.81,1764.49 1313.58,1735.32 1350.34,1445.19 1387.11,1653.4 1423.87,1736.5 1460.64,1744.81 1497.4,1748.49" fill="none" stroke="#416DB6" stroke-width="5.4" stroke-linejoin="round"/><circle cx="982.7" cy="1805.39" r="4.8" fill="#416DB6"/><circle cx="1019.46" cy="1810.86" r="4.8" fill="#416DB6"/><circle cx="1056.23" cy="1805.39" r="4.8" fill="#416DB6"/><circle cx="1092.99" cy="1795.33" r="4.8" fill="#416DB6"/><circle cx="1129.76" cy="1812" r="4.8" fill="#416DB6"/><circle cx="1166.52" cy="1795.99" r="4.8" fill="#416DB6"/><circle cx="1203.29" cy="1798.7" r="4.8" fill="#416DB6"/><circle cx="1240.05" cy="1778.49" r="4.8" fill="#416DB6"/><circle cx="1276.81" cy="1764.49" r="4.8" fill="#416DB6"/><circle cx="1313.58" cy="1735.32" r="4.8" fill="#416DB6"/><circle cx="1350.34" cy="1445.19" r="4.8" fill="#416DB6"/><circle cx="1387.11" cy="1653.4" r="4.8" fill="#416DB6"/><circle cx="1423.87" cy="1736.5" r="4.8" fill="#416DB6"/><circle cx="1460.64" cy="1744.81" r="4.8" fill="#416DB6"/><circle cx="1497.4" cy="1748.49" r="4.8" fill="#416DB6"/><polyline points="982.7,1807.1 1019.46,1810.86 1056.23,1803.12 1092.99,1806.49 1129.76,1804.91 1166.52,1801.28 1203.29,1794.68 1240.05,1759.9 1276.81,1783.3 1313.58,1629.34 1350.34,1260.17 1387.11,1662.14 1423.87,1709.6 1460.64,1726 1497.4,1761.7" fill="none" stroke="#E67C34" stroke-width="5.4" stroke-linejoin="round"/><circle cx="982.7" cy="1807.1" r="4.8" fill="#E67C34"/><circle cx="1019.46" cy="1810.86" r="4.8" fill="#E67C34"/><circle cx="1056.23" cy="1803.12" r="4.8" fill="#E67C34"/><circle cx="1092.99" cy="1806.49" r="4.8" fill="#E67C34"/><circle cx="1129.76" cy="1804.91" r="4.8" fill="#E67C34"/><circle cx="1166.52" cy="1801.28" r="4.8" fill="#E67C34"/><circle cx="1203.29" cy="1794.68" r="4.8" fill="#E67C34"/><circle cx="1240.05" cy="1759.9" r="4.8" fill="#E67C34"/><circle cx="1276.81" cy="1783.3" r="4.8" fill="#E67C34"/><circle cx="1313.58" cy="1629.34" r="4.8" fill="#E67C34"/><circle cx="1350.34" cy="1260.17" r="4.8" fill="#E67C34"/><circle cx="1387.11" cy="1662.14" r="4.8" fill="#E67C34"/><circle cx="1423.87" cy="1709.6" r="4.8" fill="#E67C34"/><circle cx="1460.64" cy="1726" r="4.8" fill="#E67C34"/><circle cx="1497.4" cy="1761.7" r="4.8" fill="#E67C34"/></g><line x1="960.7" y1="1851.1" x2="965.3" y2="1851.1" stroke="#000" stroke-width="2"/><text x="945.2" y="1856.27" font-size="15" fill="#000">0</text><line x1="960.7" y1="1829.23" x2="965.3" y2="1829.23" stroke="#000" stroke-width="2"/><text x="936.88" y="1834.4" font-size="15" fill="#000">50</text><line x1="960.7" y1="1807.36" x2="965.3" y2="1807.36" stroke="#000" stroke-width="2"/><text x="928.55" y="1812.53" font-size="15" fill="#000">100</text><line x1="960.7" y1="1785.49" x2="965.3" y2="1785.49" stroke="#000" stroke-width="2"/><text x="928.55" y="1790.66" font-size="15" fill="#000">150</text><line x1="960.7" y1="1763.62" x2="965.3" y2="1763.62" stroke="#000" stroke-width="2"/><text x="928.55" y="1768.79" font-size="15" fill="#000">200</text><line x1="960.7" y1="1741.75" x2="965.3" y2="1741.75" stroke="#000" stroke-width="2"/><text x="928.55" y="1746.92" font-size="15" fill="#000">250</text><line x1="960.7" y1="1719.88" x2="965.3" y2="1719.88" stroke="#000" stroke-width="2"/><text x="928.55" y="1725.06" font-size="15" fill="#000">300</text><line x1="960.7" y1="1698.01" x2="965.3" y2="1698.01" stroke="#000" stroke-width="2"/><text x="928.55" y="1703.18" font-size="15" fill="#000">350</text><line x1="960.7" y1="1676.14" x2="965.3" y2="1676.14" stroke="#000" stroke-width="2"/><text x="928.55" y="1681.32" font-size="15" fill="#000">400</text><line x1="960.7" y1="1654.27" x2="965.3" y2="1654.27" stroke="#000" stroke-width="2"/><text x="928.55" y="1659.44" font-size="15" fill="#000">450</text><line x1="960.7" y1="1632.4" x2="965.3" y2="1632.4" stroke="#000" stroke-width="2"/><text x="928.55" y="1637.58" font-size="15" fill="#000">500</text><text x="975.26" y="1873.95" font-size="15" fill="#000">20</text><text x="1012.25" y="1873.95" font-size="15" fill="#000">40</text><text x="1048.79" y="1873.95" font-size="15" fill="#000">60</text><text x="1085.59" y="1873.95" font-size="15" fill="#000">80</text><text x="1117.97" y="1873.95" font-size="15" fill="#000">100</text><text x="1154.73" y="1873.95" font-size="15" fill="#000">120</text><text x="1191.5" y="1873.95" font-size="15" fill="#000">140</text><text x="1228.26" y="1873.95" font-size="15" fill="#000">160</text><text x="1265.03" y="1873.95" font-size="15" fill="#000">180</text><text x="1301.98" y="1873.95" font-size="15" fill="#000">200</text><text x="1338.74" y="1873.95" font-size="15" fill="#000">220</text><text x="1375.51" y="1873.95" font-size="15" fill="#000">240</text><text x="1412.27" y="1873.95" font-size="15" fill="#000">260</text><text x="1449.04" y="1873.95" font-size="15" fill="#000">280</text><text x="1485.88" y="1873.95" font-size="15" fill="#000">300</text><text transform="translate(1516.39 1842.24) scale(1.0424 1)" font-size="15.5" font-weight="bold" fill="#000">(mM)</text><text transform="translate(1516.4 1873.94) scale(1.0372 1)" font-size="15.5" font-weight="bold" fill="#000">(min)</text><text transform="translate(922.5 1736.4) rotate(-90)" font-size="16" text-anchor="middle">% of baseline</text><text x="1230.73" y="1745.01" font-size="34.68" font-weight="bold" fill="#E07D3A">**</text><text x="1351.34" y="1654.51" font-size="31.32" font-weight="bold" fill="#E07D3A">*</text><line x1="1132.5" y1="1900.9" x2="1162.1" y2="1900.9" stroke="#416DB6" stroke-width="5.4" stroke-linecap="round"/><circle cx="1147.3" cy="1900.9" r="4.8" fill="#416DB6"/><line x1="1200.2" y1="1900.9" x2="1229.7" y2="1900.9" stroke="#E67C34" stroke-width="5.4" stroke-linecap="round"/><circle cx="1214.95" cy="1900.9" r="4.8" fill="#E67C34"/><text transform="translate(1166.33 1905) scale(0.9412 1)" font-size="15" fill="#000">WT</text><text transform="translate(1234.4 1904.85) scale(1.0069 1)" font-size="15" fill="#000">TRPA1-KO</text><rect x="1049" y="2055.8" width="36.8" height="232.7" fill="#C9CACC"/><rect x="1158" y="2055.8" width="36.8" height="232.7" fill="#C9CACC"/><rect x="1267.7" y="2055.8" width="36.3" height="232.7" fill="#C9CACC"/><text x="1061.07" y="2276.9" font-size="15.5" font-weight="bold" fill="#000">1</text><text x="1173.41" y="2276.24" font-size="15.5" font-weight="bold" fill="#000">3</text><text x="1276.47" y="2276.44" font-size="15.5" font-weight="bold" fill="#000">10</text><line x1="958.2" y1="2289.6" x2="958.2" y2="2057" stroke="#000" stroke-width="2.2"/><line x1="953.6" y1="2288.5" x2="1505.5" y2="2288.5" stroke="#000" stroke-width="2.2"/><line x1="975.4" y1="2288.5" x2="975.4" y2="2293.1" stroke="#000" stroke-width="2"/><line x1="1011.87" y1="2288.5" x2="1011.87" y2="2293.1" stroke="#000" stroke-width="2"/><line x1="1048.34" y1="2288.5" x2="1048.34" y2="2293.1" stroke="#000" stroke-width="2"/><line x1="1084.81" y1="2288.5" x2="1084.81" y2="2293.1" stroke="#000" stroke-width="2"/><line x1="1121.29" y1="2288.5" x2="1121.29" y2="2293.1" stroke="#000" stroke-width="2"/><line x1="1157.76" y1="2288.5" x2="1157.76" y2="2293.1" stroke="#000" stroke-width="2"/><line x1="1194.23" y1="2288.5" x2="1194.23" y2="2293.1" stroke="#000" stroke-width="2"/><line x1="1230.7" y1="2288.5" x2="1230.7" y2="2293.1" stroke="#000" stroke-width="2"/><line x1="1267.17" y1="2288.5" x2="1267.17" y2="2293.1" stroke="#000" stroke-width="2"/><line x1="1303.64" y1="2288.5" x2="1303.64" y2="2293.1" stroke="#000" stroke-width="2"/><line x1="1340.11" y1="2288.5" x2="1340.11" y2="2293.1" stroke="#000" stroke-width="2"/><line x1="1376.59" y1="2288.5" x2="1376.59" y2="2293.1" stroke="#000" stroke-width="2"/><line x1="1413.06" y1="2288.5" x2="1413.06" y2="2293.1" stroke="#000" stroke-width="2"/><line x1="1449.53" y1="2288.5" x2="1449.53" y2="2293.1" stroke="#000" stroke-width="2"/><line x1="1486" y1="2288.5" x2="1486" y2="2293.1" stroke="#000" stroke-width="2"/><line x1="1504.5" y1="2288.5" x2="1504.5" y2="2293.1" stroke="#000" stroke-width="2"/><clipPath id="c10"><rect x="958.2" y="2056.6" width="556.3" height="250.4"/></clipPath><g clip-path="url(#c10)"><path d="M975.4 2235.28 V2238.96 M972.1 2235.28 H978.7 M972.1 2238.96 H978.7" stroke="#5A5A5A" stroke-width="2.1" fill="none"/><path d="M1011.87 2244.26 V2247.03 M1008.57 2244.26 H1015.17 M1008.57 2247.03 H1015.17" stroke="#5A5A5A" stroke-width="2.1" fill="none"/><path d="M1048.34 2242.42 V2245.18 M1045.04 2242.42 H1051.64 M1045.04 2245.18 H1051.64" stroke="#5A5A5A" stroke-width="2.1" fill="none"/><path d="M1084.81 2228.14 V2231.82 M1081.51 2228.14 H1088.11 M1081.51 2231.82 H1088.11" stroke="#5A5A5A" stroke-width="2.1" fill="none"/><path d="M1121.29 2239.33 V2242.1 M1117.99 2239.33 H1124.59 M1117.99 2242.1 H1124.59" stroke="#5A5A5A" stroke-width="2.1" fill="none"/><path d="M1157.76 2238.73 V2241.5 M1154.46 2238.73 H1161.06 M1154.46 2241.5 H1161.06" stroke="#5A5A5A" stroke-width="2.1" fill="none"/><path d="M1194.23 2225.83 V2237.81 M1190.93 2225.83 H1197.53 M1190.93 2237.81 H1197.53" stroke="#5A5A5A" stroke-width="2.1" fill="none"/><path d="M1230.7 2209.7 V2229.98 M1227.4 2209.7 H1234 M1227.4 2229.98 H1234" stroke="#5A5A5A" stroke-width="2.1" fill="none"/><path d="M1267.17 2212.93 V2235.97 M1263.87 2212.93 H1270.47 M1263.87 2235.97 H1270.47" stroke="#5A5A5A" stroke-width="2.1" fill="none"/><path d="M1303.64 2156.25 V2201.41 M1300.34 2156.25 H1306.94 M1300.34 2201.41 H1306.94" stroke="#5A5A5A" stroke-width="2.1" fill="none"/><path d="M1340.11 2061.92 V2135.65 M1336.81 2061.92 H1343.41 M1336.81 2135.65 H1343.41" stroke="#5A5A5A" stroke-width="2.1" fill="none"/><path d="M1376.59 2102.57 V2177.22 M1373.29 2102.57 H1379.89 M1373.29 2177.22 H1379.89" stroke="#5A5A5A" stroke-width="2.1" fill="none"/><path d="M1413.06 2130.22 V2193.81 M1409.76 2130.22 H1416.36 M1409.76 2193.81 H1416.36" stroke="#5A5A5A" stroke-width="2.1" fill="none"/><path d="M1449.53 2140.12 V2198.18 M1446.23 2140.12 H1452.83 M1446.23 2198.18 H1452.83" stroke="#5A5A5A" stroke-width="2.1" fill="none"/><path d="M1486 2153.16 V2203.85 M1482.7 2153.16 H1489.3 M1482.7 2203.85 H1489.3" stroke="#5A5A5A" stroke-width="2.1" fill="none"/><path d="M975.4 2238.73 V2241.5 M972.1 2238.73 H978.7 M972.1 2241.5 H978.7" stroke="#5A5A5A" stroke-width="2.1" fill="none"/><path d="M1011.87 2241.5 V2244.26 M1008.57 2241.5 H1015.17 M1008.57 2244.26 H1015.17" stroke="#5A5A5A" stroke-width="2.1" fill="none"/><path d="M1048.34 2242.42 V2245.18 M1045.04 2242.42 H1051.64 M1045.04 2245.18 H1051.64" stroke="#5A5A5A" stroke-width="2.1" fill="none"/><path d="M1084.81 2224.91 V2228.6 M1081.51 2224.91 H1088.11 M1081.51 2228.6 H1088.11" stroke="#5A5A5A" stroke-width="2.1" fill="none"/><path d="M1121.29 2239.33 V2242.1 M1117.99 2239.33 H1124.59 M1117.99 2242.1 H1124.59" stroke="#5A5A5A" stroke-width="2.1" fill="none"/><path d="M1157.76 2240.58 V2249.79 M1154.46 2240.58 H1161.06 M1154.46 2249.79 H1161.06" stroke="#5A5A5A" stroke-width="2.1" fill="none"/><path d="M1194.23 2215.69 V2229.06 M1190.93 2215.69 H1197.53 M1190.93 2229.06 H1197.53" stroke="#5A5A5A" stroke-width="2.1" fill="none"/><path d="M1230.7 2198.64 V2222.61 M1227.4 2198.64 H1234 M1227.4 2222.61 H1234" stroke="#5A5A5A" stroke-width="2.1" fill="none"/><path d="M1267.17 2212.93 V2235.97 M1263.87 2212.93 H1270.47 M1263.87 2235.97 H1270.47" stroke="#5A5A5A" stroke-width="2.1" fill="none"/><path d="M1303.64 2144.27 V2188.51 M1300.34 2144.27 H1306.94 M1300.34 2188.51 H1306.94" stroke="#5A5A5A" stroke-width="2.1" fill="none"/><path d="M1340.11 2079.57 V2156.07 M1336.81 2079.57 H1343.41 M1336.81 2156.07 H1343.41" stroke="#5A5A5A" stroke-width="2.1" fill="none"/><path d="M1376.59 2102.57 V2177.22 M1373.29 2102.57 H1379.89 M1373.29 2177.22 H1379.89" stroke="#5A5A5A" stroke-width="2.1" fill="none"/><path d="M1413.06 2144.55 V2206.29 M1409.76 2144.55 H1416.36 M1409.76 2206.29 H1416.36" stroke="#5A5A5A" stroke-width="2.1" fill="none"/><path d="M1449.53 2142.89 V2202.79 M1446.23 2142.89 H1452.83 M1446.23 2202.79 H1452.83" stroke="#5A5A5A" stroke-width="2.1" fill="none"/><path d="M1486 2162.7 V2212.47 M1482.7 2162.7 H1489.3 M1482.7 2212.47 H1489.3" stroke="#5A5A5A" stroke-width="2.1" fill="none"/><polyline points="975.4,2237.12 1011.87,2245.65 1048.34,2243.8 1084.81,2229.98 1121.29,2240.72 1157.76,2240.12 1194.23,2231.82 1230.7,2219.84 1267.17,2224.45 1303.64,2178.83 1340.11,2098.79 1376.59,2139.89 1413.06,2162.01 1449.53,2169.15 1486,2178.51" fill="none" stroke="#416DB6" stroke-width="5.4" stroke-linejoin="round"/><circle cx="975.4" cy="2237.12" r="4.8" fill="#416DB6"/><circle cx="1011.87" cy="2245.65" r="4.8" fill="#416DB6"/><circle cx="1048.34" cy="2243.8" r="4.8" fill="#416DB6"/><circle cx="1084.81" cy="2229.98" r="4.8" fill="#416DB6"/><circle cx="1121.29" cy="2240.72" r="4.8" fill="#416DB6"/><circle cx="1157.76" cy="2240.12" r="4.8" fill="#416DB6"/><circle cx="1194.23" cy="2231.82" r="4.8" fill="#416DB6"/><circle cx="1230.7" cy="2219.84" r="4.8" fill="#416DB6"/><circle cx="1267.17" cy="2224.45" r="4.8" fill="#416DB6"/><circle cx="1303.64" cy="2178.83" r="4.8" fill="#416DB6"/><circle cx="1340.11" cy="2098.79" r="4.8" fill="#416DB6"/><circle cx="1376.59" cy="2139.89" r="4.8" fill="#416DB6"/><circle cx="1413.06" cy="2162.01" r="4.8" fill="#416DB6"/><circle cx="1449.53" cy="2169.15" r="4.8" fill="#416DB6"/><circle cx="1486" cy="2178.51" r="4.8" fill="#416DB6"/><polyline points="975.4,2240.12 1011.87,2242.88 1048.34,2243.8 1084.81,2226.75 1121.29,2240.72 1157.76,2245.18 1194.23,2222.38 1230.7,2210.62 1267.17,2224.45 1303.64,2166.39 1340.11,2117.82 1376.59,2139.89 1413.06,2175.42 1449.53,2172.84 1486,2187.58" fill="none" stroke="#E67C34" stroke-width="5.4" stroke-linejoin="round"/><circle cx="975.4" cy="2240.12" r="4.8" fill="#E67C34"/><circle cx="1011.87" cy="2242.88" r="4.8" fill="#E67C34"/><circle cx="1048.34" cy="2243.8" r="4.8" fill="#E67C34"/><circle cx="1084.81" cy="2226.75" r="4.8" fill="#E67C34"/><circle cx="1121.29" cy="2240.72" r="4.8" fill="#E67C34"/><circle cx="1157.76" cy="2245.18" r="4.8" fill="#E67C34"/><circle cx="1194.23" cy="2222.38" r="4.8" fill="#E67C34"/><circle cx="1230.7" cy="2210.62" r="4.8" fill="#E67C34"/><circle cx="1267.17" cy="2224.45" r="4.8" fill="#E67C34"/><circle cx="1303.64" cy="2166.39" r="4.8" fill="#E67C34"/><circle cx="1340.11" cy="2117.82" r="4.8" fill="#E67C34"/><circle cx="1376.59" cy="2139.89" r="4.8" fill="#E67C34"/><circle cx="1413.06" cy="2175.42" r="4.8" fill="#E67C34"/><circle cx="1449.53" cy="2172.84" r="4.8" fill="#E67C34"/><circle cx="1486" cy="2187.58" r="4.8" fill="#E67C34"/></g><line x1="953.6" y1="2288.5" x2="958.2" y2="2288.5" stroke="#000" stroke-width="2"/><text x="939.2" y="2293.68" font-size="15" fill="#000">0</text><line x1="953.6" y1="2265.46" x2="958.2" y2="2265.46" stroke="#000" stroke-width="2"/><text x="930.88" y="2270.64" font-size="15" fill="#000">50</text><line x1="953.6" y1="2242.42" x2="958.2" y2="2242.42" stroke="#000" stroke-width="2"/><text x="922.55" y="2247.6" font-size="15" fill="#000">100</text><line x1="953.6" y1="2219.38" x2="958.2" y2="2219.38" stroke="#000" stroke-width="2"/><text x="922.55" y="2224.56" font-size="15" fill="#000">150</text><line x1="953.6" y1="2196.34" x2="958.2" y2="2196.34" stroke="#000" stroke-width="2"/><text x="922.55" y="2201.52" font-size="15" fill="#000">200</text><line x1="953.6" y1="2173.3" x2="958.2" y2="2173.3" stroke="#000" stroke-width="2"/><text x="922.55" y="2178.48" font-size="15" fill="#000">250</text><line x1="953.6" y1="2150.26" x2="958.2" y2="2150.26" stroke="#000" stroke-width="2"/><text x="922.55" y="2155.43" font-size="15" fill="#000">300</text><line x1="953.6" y1="2127.22" x2="958.2" y2="2127.22" stroke="#000" stroke-width="2"/><text x="922.55" y="2132.39" font-size="15" fill="#000">350</text><line x1="953.6" y1="2104.18" x2="958.2" y2="2104.18" stroke="#000" stroke-width="2"/><text x="922.55" y="2109.36" font-size="15" fill="#000">400</text><line x1="953.6" y1="2081.14" x2="958.2" y2="2081.14" stroke="#000" stroke-width="2"/><text x="922.55" y="2086.32" font-size="15" fill="#000">450</text><line x1="953.6" y1="2058.1" x2="958.2" y2="2058.1" stroke="#000" stroke-width="2"/><text x="922.55" y="2063.28" font-size="15" fill="#000">500</text><text x="967.96" y="2311.35" font-size="15" fill="#000">20</text><text x="1004.66" y="2311.35" font-size="15" fill="#000">40</text><text x="1040.91" y="2311.35" font-size="15" fill="#000">60</text><text x="1077.41" y="2311.35" font-size="15" fill="#000">80</text><text x="1109.5" y="2311.35" font-size="15" fill="#000">100</text><text x="1145.97" y="2311.35" font-size="15" fill="#000">120</text><text x="1182.44" y="2311.35" font-size="15" fill="#000">140</text><text x="1218.91" y="2311.35" font-size="15" fill="#000">160</text><text x="1255.38" y="2311.35" font-size="15" fill="#000">180</text><text x="1292.04" y="2311.35" font-size="15" fill="#000">200</text><text x="1328.51" y="2311.35" font-size="15" fill="#000">220</text><text x="1364.99" y="2311.35" font-size="15" fill="#000">240</text><text x="1401.46" y="2311.35" font-size="15" fill="#000">260</text><text x="1437.93" y="2311.35" font-size="15" fill="#000">280</text><text x="1474.47" y="2311.35" font-size="15" fill="#000">300</text><text transform="translate(1507.99 2276.74) scale(1.0424 1)" font-size="15.5" font-weight="bold" fill="#000">(mM)</text><text transform="translate(1508 2311.04) scale(1.0372 1)" font-size="15.5" font-weight="bold" fill="#000">(min)</text><text transform="translate(914.6 2170.9) rotate(-90)" font-size="16" text-anchor="middle">% of baseline</text><text x="1091.94" y="2216.68" font-size="31.05" font-weight="bold" fill="#E07D3A">*</text><text x="1092.65" y="2231.35" font-size="29.21" font-weight="bold" fill="#4470B8">*</text><text x="1237.14" y="2197.23" font-size="31.84" font-weight="bold" fill="#E07D3A">*</text><text x="1238.19" y="2204.71" font-size="20.76" font-weight="bold" fill="#4470B8" stroke="#4470B8" stroke-width="0.6">#</text><text x="1348.23" y="2104.49" font-size="33.64" font-weight="bold" fill="#4470B8">**</text><text x="1344.93" y="2166.91" font-size="34.68" font-weight="bold" fill="#E07D3A">**</text><line x1="1123.6" y1="2339.4" x2="1152.8" y2="2339.4" stroke="#416DB6" stroke-width="5.4" stroke-linecap="round"/><circle cx="1138.2" cy="2339.4" r="4.8" fill="#416DB6"/><line x1="1191.5" y1="2339.4" x2="1220.8" y2="2339.4" stroke="#E67C34" stroke-width="5.4" stroke-linecap="round"/><circle cx="1206.15" cy="2339.4" r="4.8" fill="#E67C34"/><text transform="translate(1156.73 2344.2) scale(0.9412 1)" font-size="15" fill="#000">WT</text><text transform="translate(1224.3 2344.05) scale(1.0069 1)" font-size="15" fill="#000">TRPA1-KO</text><text transform="translate(156.28 508.04) scale(1.0219 1)" font-size="56" font-weight="bold" fill="#000">b</text><text transform="translate(156.8 1261.24) scale(1.0272 1)" font-size="56" font-weight="bold" fill="#000">c</text><text transform="translate(156.82 2032.04) scale(1.0184 1)" font-size="56" font-weight="bold" fill="#000">d</text><text transform="translate(886.65 508.04) scale(1.0045 1)" font-size="56" font-weight="bold" fill="#000">e</text><text transform="translate(891.07 1257.8) scale(1.1105 1)" font-size="56" font-weight="bold" fill="#000">f</text><text transform="translate(889.78 2027.04) scale(0.9901 1)" font-size="56" font-weight="bold" fill="#000">g</text><text transform="translate(227.83 504.54) scale(1.0247 1)" font-size="26" font-weight="bold" fill="#000">GABA</text><text transform="translate(220.44 1260.35) scale(1.0168 1)" font-size="26" font-weight="bold" fill="#000">glutamate</text><text transform="translate(226.74 2031.05) scale(1.0180 1)" font-size="26" font-weight="bold" fill="#000">glycine</text><text transform="translate(967.09 504.54) scale(0.9712 1)" font-size="26" font-weight="bold" fill="#000">GABA</text><text transform="translate(974.95 1255.45) scale(1.0110 1)" font-size="26" font-weight="bold" fill="#000">glutamate</text><text transform="translate(969.84 2024.95) scale(1.0192 1)" font-size="26" font-weight="bold" fill="#000">glycine</text><text x="476.26" y="505.4" font-size="26.8" font-weight="bold">Na<tspan font-size="15.5" dy="8.8">2</tspan><tspan dy="-8.8">S</tspan></text><text x="470.36" y="1259.7" font-size="26.8" font-weight="bold">Na<tspan font-size="15.5" dy="8.8">2</tspan><tspan dy="-8.8">S</tspan></text><text x="484.36" y="2028" font-size="26.8" font-weight="bold">Na<tspan font-size="15.5" dy="8.8">2</tspan><tspan dy="-8.8">S</tspan></text><text x="1189.76" y="505.7" font-size="26.8" font-weight="bold">Na<tspan font-size="15.5" dy="8.8">2</tspan><tspan dy="-8.8">S</tspan><tspan font-size="15.5" dy="8.8">2</tspan></text><text x="1203.76" y="1253.1" font-size="26.8" font-weight="bold">Na<tspan font-size="15.5" dy="8.8">2</tspan><tspan dy="-8.8">S</tspan><tspan font-size="15.5" dy="8.8">2</tspan></text>
</svg></body></html>
